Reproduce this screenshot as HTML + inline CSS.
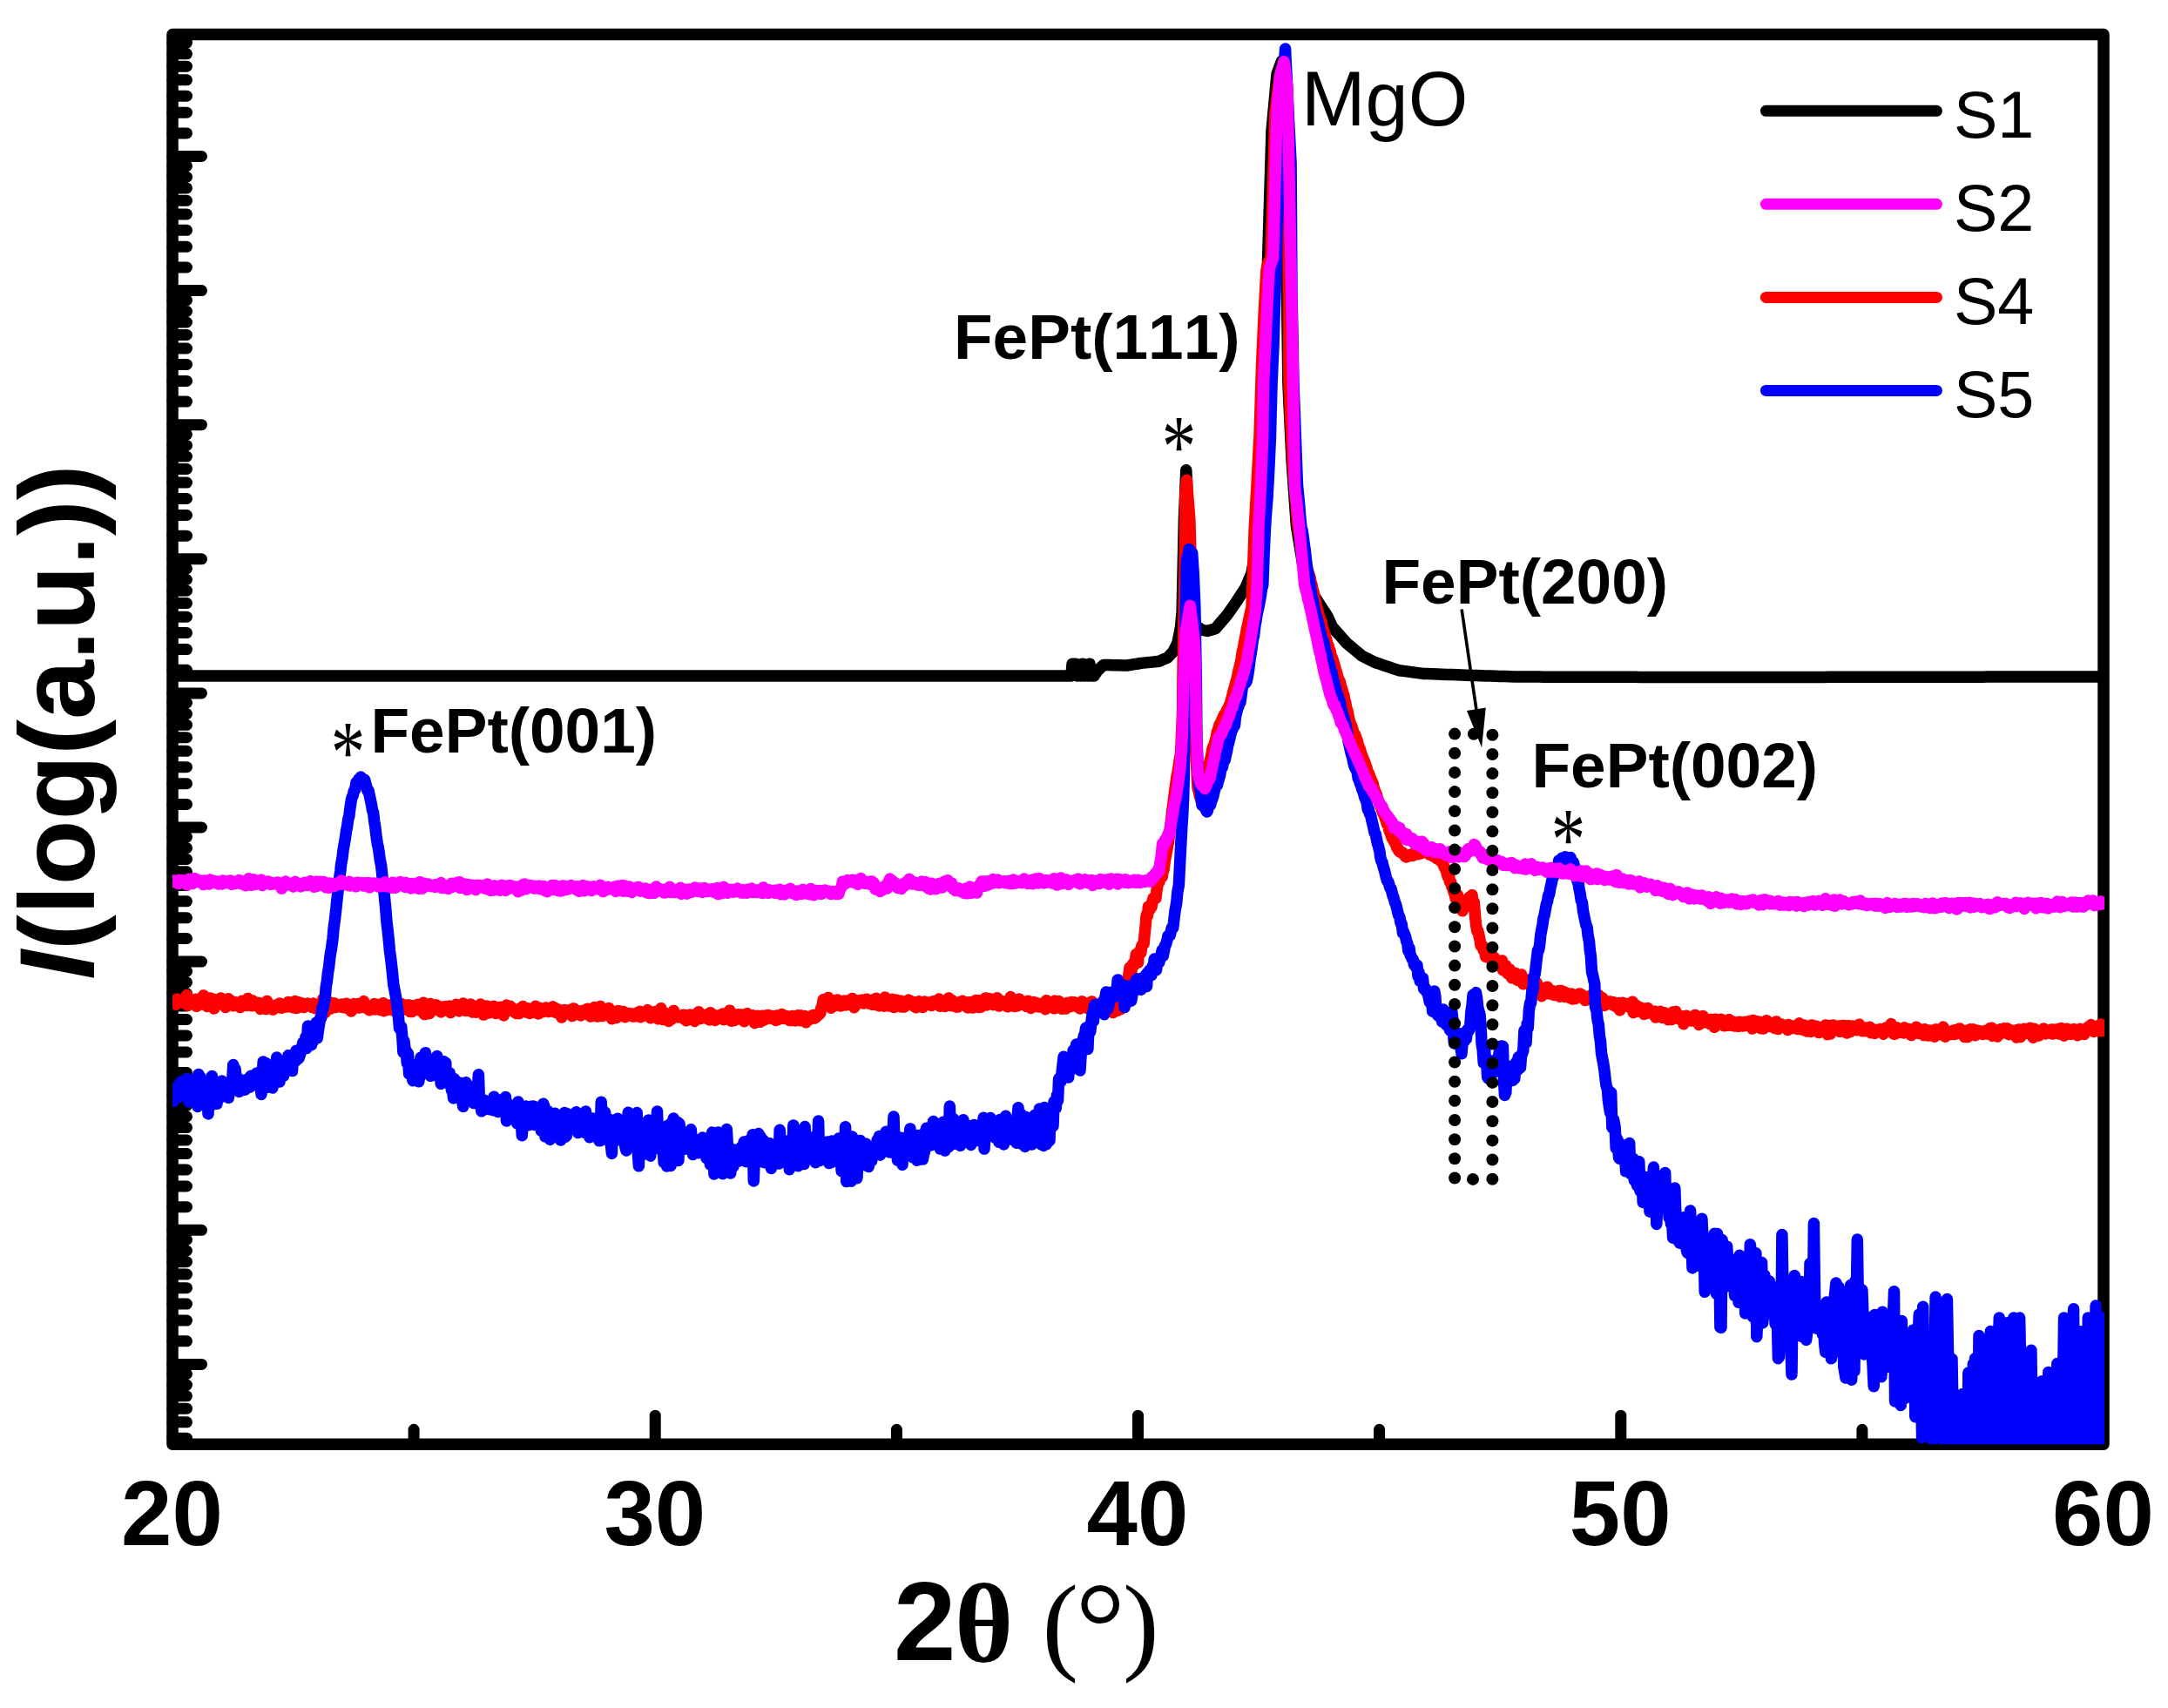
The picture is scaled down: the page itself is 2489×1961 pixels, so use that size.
<!DOCTYPE html>
<html><head><meta charset="utf-8"><title>XRD patterns</title>
<style>html,body{margin:0;padding:0;background:#fff}svg{display:block}text{font-family:"Liberation Sans",sans-serif;fill:#000;font-kerning:none}.sf{font-family:"Liberation Serif",serif}</style></head>
<body>
<svg width="2489" height="1961" viewBox="0 0 2489 1961">
<rect width="2489" height="1961" fill="#fff"/>
<defs><clipPath id="plot"><rect x="198.0" y="39.5" width="2218.0" height="1618.8"/></clipPath></defs>
<rect x="198.0" y="39.5" width="2217.0" height="1618.8" fill="none" stroke="#000" stroke-width="13.5" stroke-linejoin="round"/>
<path d="M198.0 49.1H214.5M198.0 61.8H214.5M198.0 76.2H214.5M198.0 91.8H214.5M198.0 110.2H214.5M198.0 129.2H214.5M198.0 152.9H214.5M198.0 179.5H231.5M198.0 190.6H214.5M198.0 203.2H214.5M198.0 215.9H214.5M198.0 230.3H214.5M198.0 245.9H214.5M198.0 264.3H214.5M198.0 283.3H214.5M198.0 307.0H214.5M198.0 333.6H231.5M198.0 344.7H214.5M198.0 357.3H214.5M198.0 370.0H214.5M198.0 384.4H214.5M198.0 400.0H214.5M198.0 418.4H214.5M198.0 437.4H214.5M198.0 461.1H214.5M198.0 487.7H231.5M198.0 498.8H214.5M198.0 511.4H214.5M198.0 524.1H214.5M198.0 538.5H214.5M198.0 554.1H214.5M198.0 572.5H214.5M198.0 591.5H214.5M198.0 615.2H214.5M198.0 641.8H231.5M198.0 652.9H214.5M198.0 665.5H214.5M198.0 678.2H214.5M198.0 692.6H214.5M198.0 708.2H214.5M198.0 726.6H214.5M198.0 745.6H214.5M198.0 769.3H214.5M198.0 795.9H231.5M198.0 807.0H214.5M198.0 819.6H214.5M198.0 832.3H214.5M198.0 846.7H214.5M198.0 862.3H214.5M198.0 880.7H214.5M198.0 899.7H214.5M198.0 923.4H214.5M198.0 950.0H231.5M198.0 961.1H214.5M198.0 973.7H214.5M198.0 986.4H214.5M198.0 1000.8H214.5M198.0 1016.4H214.5M198.0 1034.8H214.5M198.0 1053.8H214.5M198.0 1077.5H214.5M198.0 1104.1H231.5M198.0 1115.2H214.5M198.0 1127.8H214.5M198.0 1140.5H214.5M198.0 1154.9H214.5M198.0 1170.5H214.5M198.0 1188.9H214.5M198.0 1207.9H214.5M198.0 1231.6H214.5M198.0 1258.2H231.5M198.0 1269.3H214.5M198.0 1281.9H214.5M198.0 1294.6H214.5M198.0 1309.0H214.5M198.0 1324.6H214.5M198.0 1343.0H214.5M198.0 1362.0H214.5M198.0 1385.7H214.5M198.0 1412.3H231.5M198.0 1423.4H214.5M198.0 1436.0H214.5M198.0 1448.7H214.5M198.0 1463.1H214.5M198.0 1478.7H214.5M198.0 1497.1H214.5M198.0 1516.1H214.5M198.0 1539.8H214.5M198.0 1566.4H231.5M198.0 1577.5H214.5M198.0 1590.1H214.5M198.0 1602.8H214.5M198.0 1617.2H214.5M198.0 1632.8H214.5M198.0 1651.2H214.5M752.2 1658.3V1625.2M1306.5 1658.3V1625.2M1860.8 1658.3V1625.2M475.1 1658.3V1641.3M1029.4 1658.3V1641.3M1583.6 1658.3V1641.3M2137.9 1658.3V1641.3" fill="none" stroke="#000" stroke-width="13" stroke-linecap="round"/>
<g clip-path="url(#plot)" fill="none" stroke-width="13.5" stroke-linejoin="round" stroke-linecap="butt">
<polyline stroke="#000000" points="198.0,776.0 203.5,776.0 209.1,776.0 214.6,776.0 220.2,776.0 225.7,776.0 231.3,776.0 236.8,776.0 242.3,776.0 247.9,776.0 253.4,776.0 259.0,776.0 264.5,776.0 270.1,776.0 275.6,776.0 281.1,776.0 286.7,776.0 292.2,776.0 297.8,776.0 303.3,776.0 308.9,776.0 314.4,776.0 319.9,776.0 325.5,776.0 331.0,776.0 336.6,776.0 342.1,776.0 347.6,776.0 353.2,776.0 358.7,776.0 364.3,776.0 369.8,776.0 375.4,776.0 380.9,776.0 386.4,776.0 392.0,776.0 397.5,776.0 403.1,776.0 408.6,776.0 414.2,776.0 419.7,776.0 425.2,776.0 430.8,776.0 436.3,776.0 441.9,776.0 447.4,776.0 453.0,776.0 458.5,776.0 464.0,776.0 469.6,776.0 475.1,776.0 480.7,776.0 486.2,776.0 491.8,776.0 497.3,776.0 502.8,776.0 508.4,776.0 513.9,776.0 519.5,776.0 525.0,776.0 530.5,776.0 536.1,776.0 541.6,776.0 547.2,776.0 552.7,776.0 558.3,776.0 563.8,776.0 569.3,776.0 574.9,776.0 580.4,776.0 586.0,776.0 591.5,776.0 597.1,776.0 602.6,776.0 608.1,776.0 613.7,776.0 619.2,776.0 624.8,776.0 630.3,776.0 635.9,776.0 641.4,776.0 646.9,776.0 652.5,776.0 658.0,776.0 663.6,776.0 669.1,776.0 674.7,776.0 680.2,776.0 685.7,776.0 691.3,776.0 696.8,776.0 702.4,776.0 707.9,776.0 713.5,776.0 719.0,776.0 724.5,776.0 730.1,776.0 735.6,776.0 741.2,776.0 746.7,776.0 752.2,776.0 757.8,776.0 763.3,776.0 768.9,776.0 774.4,776.0 780.0,776.0 785.5,776.0 791.0,776.0 796.6,776.0 802.1,776.0 807.7,776.0 813.2,776.0 818.8,776.0 824.3,776.0 829.8,776.0 835.4,776.0 840.9,776.0 846.5,776.0 852.0,776.0 857.6,776.0 863.1,776.0 868.6,776.0 874.2,776.0 879.7,776.0 885.3,776.0 890.8,776.0 896.4,776.0 901.9,776.0 907.4,776.0 913.0,776.0 918.5,776.0 924.1,776.0 929.6,776.0 935.2,776.0 940.7,776.0 946.2,776.0 951.8,776.0 957.3,776.0 962.9,776.0 968.4,776.0 974.0,776.0 979.5,776.0 985.0,776.0 990.6,776.0 996.1,776.0 1001.7,776.0 1007.2,776.0 1012.7,776.0 1018.3,776.0 1023.8,776.0 1029.4,776.0 1034.9,776.0 1040.5,776.0 1046.0,776.0 1051.5,776.0 1057.1,776.0 1062.6,776.0 1068.2,776.0 1073.7,776.0 1079.3,776.0 1084.8,776.0 1090.3,776.0 1095.9,776.0 1101.4,776.0 1107.0,776.0 1112.5,776.0 1118.1,776.0 1123.6,776.0 1129.1,776.0 1134.7,776.0 1140.2,776.0 1145.8,776.0 1151.3,776.0 1156.9,776.0 1162.4,776.0 1167.9,776.0 1173.5,776.0 1179.0,776.0 1184.6,776.0 1190.1,776.0 1195.7,776.0 1201.2,776.0 1206.7,776.0 1212.3,776.0 1217.8,776.0 1222.0,776.0 1230.0,776.0 1231.0,762.3 1235.0,762.3 1237.0,776.0 1239.0,763.0 1241.0,776.0 1243.0,762.3 1245.0,776.0 1247.0,763.0 1249.0,776.0 1251.0,762.3 1253.0,776.0 1256.0,776.0 1260.0,770.0 1267.0,763.4 1273.2,763.5 1278.8,763.7 1284.3,763.8 1289.9,763.9 1293.7,764.0 1301.0,762.8 1306.5,762.0 1310.0,761.4 1317.6,760.6 1323.1,760.1 1330.6,759.3 1334.2,757.7 1340.5,755.0 1347.0,748.0 1352.0,738.0 1355.5,720.0 1357.1,702.7 1359.4,596.0 1361.8,539.7 1364.5,600.0 1367.5,690.0 1373.0,718.0 1379.0,723.0 1386.0,724.5 1389.6,723.4 1395.3,721.8 1400.7,715.5 1406.3,709.0 1409.0,705.8 1411.8,701.8 1417.4,693.8 1420.0,690.0 1422.9,685.5 1430.0,674.6 1434.0,665.2 1437.0,658.0 1441.0,635.0 1446.0,560.0 1451.0,450.0 1455.5,300.0 1460.0,150.0 1466.0,85.0 1471.5,70.0 1475.0,150.0 1477.0,300.0 1478.9,440.0 1483.0,528.0 1488.4,604.0 1496.0,650.0 1500.5,662.3 1508.0,683.0 1511.6,688.5 1517.1,697.1 1524.2,708.0 1529.2,719.3 1533.7,724.5 1539.3,730.8 1545.6,738.0 1550.4,742.0 1555.9,746.6 1563.6,753.0 1567.0,754.7 1572.5,757.5 1578.5,760.5 1583.6,762.2 1589.2,764.1 1594.7,765.9 1600.3,767.8 1606.0,769.7 1611.3,770.4 1616.9,771.1 1622.4,771.9 1628.0,772.6 1633.8,773.4 1639.1,773.6 1644.6,773.8 1650.1,774.0 1655.7,774.2 1661.2,774.4 1666.8,774.6 1672.3,774.8 1677.8,775.0 1683.4,775.2 1689.0,775.4 1694.5,775.6 1700.0,775.7 1705.6,775.9 1711.1,776.1 1716.6,776.2 1722.2,776.4 1727.7,776.6 1733.3,776.8 1738.8,776.9 1744.5,777.1 1749.9,777.1 1755.4,777.1 1761.0,777.1 1766.5,777.1 1772.1,777.2 1777.6,777.2 1783.2,777.2 1788.7,777.2 1794.2,777.2 1799.8,777.2 1805.3,777.2 1810.9,777.2 1816.4,777.2 1822.0,777.2 1827.5,777.3 1833.0,777.3 1838.6,777.3 1844.1,777.3 1849.7,777.3 1855.2,777.3 1860.8,777.3 1866.3,777.3 1871.8,777.3 1877.4,777.3 1882.9,777.4 1888.5,777.4 1894.0,777.4 1899.5,777.4 1905.1,777.4 1910.6,777.4 1916.2,777.4 1921.7,777.4 1927.3,777.4 1932.8,777.4 1938.3,777.5 1943.9,777.5 1949.4,777.5 1955.0,777.5 1960.0,777.5 1966.1,777.5 1971.6,777.5 1977.1,777.5 1982.7,777.5 1988.2,777.5 1993.8,777.5 1999.3,777.5 2004.9,777.5 2010.4,777.4 2015.9,777.4 2021.5,777.4 2027.0,777.4 2032.6,777.4 2038.1,777.4 2043.7,777.4 2049.2,777.4 2054.7,777.4 2060.3,777.4 2065.8,777.4 2071.4,777.4 2076.9,777.4 2082.4,777.4 2088.0,777.4 2093.5,777.4 2099.1,777.3 2104.6,777.3 2110.2,777.3 2115.7,777.3 2121.2,777.3 2126.8,777.3 2132.3,777.3 2137.9,777.3 2143.4,777.3 2149.0,777.3 2154.5,777.3 2160.0,777.3 2165.6,777.3 2171.1,777.3 2176.7,777.3 2182.2,777.3 2187.8,777.2 2193.3,777.2 2198.8,777.2 2204.4,777.2 2209.9,777.2 2215.5,777.2 2221.0,777.2 2226.6,777.2 2232.1,777.2 2237.6,777.2 2243.2,777.2 2248.7,777.2 2254.3,777.2 2259.8,777.2 2265.4,777.2 2270.9,777.2 2276.4,777.2 2282.0,777.1 2287.5,777.1 2293.1,777.1 2298.6,777.1 2304.2,777.1 2309.7,777.1 2315.2,777.1 2320.8,777.1 2326.3,777.1 2331.9,777.1 2337.4,777.1 2342.9,777.1 2348.5,777.1 2354.0,777.1 2359.6,777.1 2365.1,777.1 2370.7,777.0 2376.2,777.0 2381.7,777.0 2387.3,777.0 2392.8,777.0 2398.4,777.0 2403.9,777.0 2409.5,777.0 2415.0,777.0"/>
<polyline stroke="#ff0000" points="198.0,1157.1 199.1,1149.0 200.2,1151.9 201.3,1151.3 202.4,1153.2 203.5,1147.1 204.7,1149.8 205.8,1148.9 206.9,1148.1 208.0,1148.7 209.1,1149.7 210.2,1150.3 211.3,1148.6 212.4,1152.3 213.5,1149.7 214.6,1142.5 215.7,1154.4 216.8,1150.2 218.0,1149.2 219.1,1152.0 220.2,1151.9 221.3,1151.5 222.4,1149.0 223.5,1151.9 224.6,1147.2 225.7,1155.3 226.8,1148.0 227.9,1150.9 229.0,1151.5 230.1,1152.1 231.3,1150.9 232.4,1152.9 233.5,1142.9 234.6,1151.0 235.7,1150.8 236.8,1150.1 237.9,1155.5 239.0,1148.7 240.1,1151.1 241.2,1145.9 242.3,1152.2 243.4,1147.0 244.6,1147.2 245.7,1157.9 246.8,1153.4 247.9,1151.5 249.0,1152.0 250.1,1147.7 251.2,1148.7 252.3,1152.8 253.4,1145.9 254.5,1152.4 255.6,1147.0 256.8,1152.1 257.9,1148.7 259.0,1156.6 260.1,1154.6 261.2,1150.4 262.3,1146.7 263.4,1149.7 264.5,1151.7 265.6,1149.2 266.7,1152.7 267.8,1154.7 268.9,1151.8 270.1,1150.8 271.2,1154.2 272.3,1151.3 273.4,1154.4 274.5,1151.2 275.6,1156.6 276.7,1151.4 277.8,1149.3 278.9,1152.5 280.0,1150.5 281.1,1149.7 282.2,1151.9 283.4,1154.4 284.5,1146.4 285.6,1152.3 286.7,1152.0 287.8,1152.0 288.9,1154.7 290.0,1148.9 291.1,1154.3 292.2,1151.9 293.3,1152.9 294.4,1152.0 295.5,1151.7 296.7,1151.2 297.8,1153.8 298.9,1158.5 300.0,1155.6 301.1,1155.1 302.2,1154.3 303.3,1151.5 304.4,1154.5 305.5,1158.6 306.6,1149.4 307.7,1155.2 308.9,1155.7 310.0,1153.8 311.1,1155.2 312.2,1156.9 313.3,1159.2 314.4,1156.7 315.5,1157.7 316.6,1154.1 317.7,1155.5 318.8,1153.7 319.9,1154.1 321.0,1152.0 322.2,1155.2 323.3,1157.3 324.4,1153.0 325.5,1154.1 326.6,1155.2 327.7,1153.5 328.8,1156.1 329.9,1154.3 331.0,1150.4 332.1,1150.8 333.2,1155.6 334.3,1155.4 335.5,1156.7 336.6,1154.4 337.7,1154.3 338.8,1149.5 339.9,1157.6 341.0,1151.3 342.1,1156.7 343.2,1150.8 344.3,1152.1 345.4,1154.4 346.5,1152.8 347.6,1152.1 348.8,1156.5 349.9,1155.9 351.0,1155.2 352.1,1153.2 353.2,1151.9 354.3,1152.9 355.4,1152.8 356.5,1154.1 357.6,1156.3 358.7,1153.8 359.8,1152.1 360.9,1152.6 362.1,1157.8 363.2,1154.8 364.3,1155.0 365.4,1155.2 366.5,1156.1 367.6,1154.9 368.7,1157.7 369.8,1156.7 370.9,1146.9 372.0,1154.2 373.1,1162.6 374.3,1151.2 375.4,1155.0 376.5,1157.6 377.6,1154.7 378.7,1158.4 379.8,1151.3 380.9,1151.4 382.0,1154.3 383.1,1152.8 384.2,1152.0 385.3,1156.4 386.4,1155.7 387.6,1155.0 388.7,1153.9 389.8,1155.7 390.9,1154.7 392.0,1153.1 393.1,1156.5 394.2,1156.1 395.3,1155.3 396.4,1157.0 397.5,1152.2 398.6,1154.8 399.7,1153.8 400.9,1158.8 402.0,1156.6 403.1,1161.0 404.2,1159.6 405.3,1154.3 406.4,1152.4 407.5,1156.7 408.6,1154.7 409.7,1155.0 410.8,1152.6 411.9,1157.1 413.0,1156.0 414.2,1156.6 415.3,1156.4 416.4,1153.2 417.5,1149.6 418.6,1154.9 419.7,1153.9 420.8,1154.3 421.9,1158.3 423.0,1155.5 424.1,1159.8 425.2,1156.3 426.4,1157.7 427.5,1157.2 428.6,1158.0 429.7,1152.5 430.8,1158.9 431.9,1156.2 433.0,1153.3 434.1,1157.6 435.2,1156.9 436.3,1159.5 437.4,1158.0 438.5,1157.1 439.7,1151.7 440.8,1160.7 441.9,1160.2 443.0,1158.3 444.1,1157.4 445.2,1159.5 446.3,1153.9 447.4,1158.2 448.5,1156.4 449.6,1153.6 450.7,1157.3 451.8,1157.3 453.0,1161.0 454.1,1159.0 455.2,1152.1 456.3,1151.2 457.4,1156.3 458.5,1156.0 459.6,1154.0 460.7,1152.6 461.8,1156.1 462.9,1153.5 464.0,1154.8 465.1,1159.0 466.3,1157.3 467.4,1154.7 468.5,1153.7 469.6,1156.3 470.7,1161.5 471.8,1155.4 472.9,1161.5 474.0,1154.7 475.1,1156.3 476.2,1158.8 477.3,1154.8 478.5,1157.1 479.6,1153.3 480.7,1158.8 481.8,1160.2 482.9,1155.3 484.0,1157.6 485.1,1156.0 486.2,1151.3 487.3,1164.6 488.4,1158.9 489.5,1159.4 490.6,1158.3 491.8,1157.7 492.9,1163.7 494.0,1152.4 495.1,1156.5 496.2,1156.2 497.3,1156.8 498.4,1159.3 499.5,1155.5 500.6,1153.9 501.7,1154.4 502.8,1158.7 503.9,1160.1 505.1,1159.7 506.2,1161.9 507.3,1156.2 508.4,1160.3 509.5,1159.5 510.6,1157.2 511.7,1155.6 512.8,1160.1 513.9,1155.9 515.0,1157.0 516.1,1155.1 517.2,1162.5 518.4,1157.7 519.5,1156.5 520.6,1157.2 521.7,1157.3 522.8,1158.2 523.9,1153.3 525.0,1154.8 526.1,1159.4 527.2,1160.9 528.3,1155.3 529.4,1158.4 530.5,1156.5 531.7,1152.0 532.8,1157.3 533.9,1155.2 535.0,1160.5 536.1,1157.6 537.2,1158.1 538.3,1154.3 539.4,1158.7 540.5,1153.1 541.6,1158.9 542.7,1162.1 543.9,1155.1 545.0,1160.7 546.1,1162.2 547.2,1157.9 548.3,1161.5 549.4,1158.7 550.5,1157.2 551.6,1153.1 552.7,1155.7 553.8,1154.6 554.9,1165.1 556.0,1159.4 557.2,1158.2 558.3,1155.0 559.4,1163.4 560.5,1155.6 561.6,1162.8 562.7,1161.7 563.8,1159.0 564.9,1157.1 566.0,1158.7 567.1,1155.3 568.2,1160.7 569.3,1163.5 570.5,1161.4 571.6,1161.8 572.7,1157.1 573.8,1159.9 574.9,1156.3 576.0,1157.9 577.1,1161.1 578.2,1165.9 579.3,1159.4 580.4,1159.3 581.5,1154.1 582.6,1159.7 583.8,1156.8 584.9,1155.5 586.0,1155.3 587.1,1159.7 588.2,1158.3 589.3,1161.2 590.0,1158.8 591.5,1159.4 592.6,1163.5 593.7,1161.7 594.8,1161.6 596.0,1163.6 597.1,1160.2 598.2,1157.0 599.3,1157.6 600.4,1155.5 601.5,1160.8 602.6,1158.7 603.7,1161.3 604.8,1162.2 605.9,1157.8 607.0,1160.5 608.1,1163.5 609.3,1160.3 610.4,1162.6 611.5,1159.6 612.6,1157.6 613.7,1159.6 614.8,1155.2 615.9,1162.2 617.0,1158.9 618.1,1164.0 619.2,1157.1 620.3,1160.8 621.4,1161.4 622.6,1160.0 623.7,1161.6 624.8,1158.6 625.9,1157.7 627.0,1156.9 628.1,1159.2 629.2,1158.6 630.3,1161.5 631.4,1159.9 632.5,1159.1 633.6,1158.9 634.7,1155.8 635.9,1160.0 637.0,1162.2 638.1,1157.5 639.2,1160.4 640.3,1163.0 641.4,1159.3 642.5,1161.8 643.6,1160.1 644.7,1168.0 645.8,1165.2 646.9,1164.6 648.1,1159.6 649.2,1163.2 650.3,1161.1 651.4,1162.5 652.5,1160.0 653.6,1162.1 654.7,1159.6 655.8,1162.5 656.9,1166.6 658.0,1158.0 659.1,1158.2 660.2,1163.2 661.4,1164.1 662.5,1160.9 663.6,1163.6 664.7,1163.2 665.8,1163.6 666.9,1165.9 668.0,1160.4 669.1,1164.0 670.2,1162.8 671.3,1160.4 672.4,1163.7 673.5,1158.8 674.7,1158.3 675.8,1165.4 676.9,1159.4 678.0,1167.1 679.1,1165.4 680.2,1161.1 681.3,1160.2 682.4,1156.5 683.5,1162.5 684.6,1158.2 685.7,1167.1 686.8,1158.2 688.0,1163.0 689.1,1155.4 690.2,1161.9 691.3,1166.6 692.4,1161.8 693.5,1160.8 694.6,1161.8 695.7,1164.1 696.8,1165.6 697.9,1162.5 699.0,1157.6 700.2,1164.1 701.3,1166.0 702.4,1169.7 703.5,1163.8 704.6,1163.9 705.7,1162.0 706.8,1165.6 707.9,1168.4 709.0,1160.8 710.1,1163.8 711.2,1160.8 712.3,1161.8 713.5,1163.2 714.6,1165.1 715.7,1161.5 716.8,1163.0 717.9,1167.7 719.0,1165.3 720.1,1165.9 721.2,1165.1 722.3,1163.5 723.4,1165.2 724.5,1165.5 725.6,1164.1 726.8,1167.0 727.9,1164.2 729.0,1166.8 730.1,1164.4 731.2,1166.4 732.3,1162.5 733.4,1162.9 734.5,1161.3 735.6,1167.8 736.7,1165.9 737.8,1165.2 738.9,1166.3 740.1,1162.4 741.2,1165.0 742.3,1163.3 743.4,1159.6 744.5,1164.1 745.6,1162.4 746.7,1168.8 747.8,1162.9 748.9,1163.3 750.0,1167.7 751.1,1165.0 752.2,1161.4 753.4,1165.8 754.5,1163.1 755.6,1169.9 756.7,1162.3 757.8,1163.2 758.9,1157.7 760.0,1163.5 761.1,1170.6 762.2,1165.1 763.3,1162.8 764.4,1166.3 765.6,1164.7 766.7,1165.5 767.8,1172.5 768.9,1171.2 770.0,1170.1 771.1,1170.3 772.2,1163.2 773.3,1160.4 774.4,1167.9 775.5,1167.0 776.6,1166.1 777.7,1165.7 778.9,1168.0 780.0,1167.6 781.1,1166.8 782.2,1167.5 783.3,1165.6 784.4,1165.2 785.5,1170.1 786.6,1165.6 787.7,1171.8 788.8,1168.2 789.9,1166.6 791.0,1169.6 792.2,1165.1 793.3,1166.0 794.4,1165.6 795.5,1166.6 796.6,1168.5 797.7,1172.4 798.8,1168.2 799.9,1163.8 801.0,1164.5 802.1,1161.8 803.2,1168.9 804.3,1169.4 805.5,1167.9 806.6,1168.0 807.7,1168.5 808.8,1168.3 809.9,1168.9 811.0,1167.8 812.1,1164.5 813.2,1169.8 814.3,1171.0 815.4,1162.8 816.5,1166.7 817.7,1164.3 818.8,1168.8 819.9,1166.7 821.0,1171.4 822.1,1170.6 823.2,1166.3 824.3,1166.3 825.4,1166.0 826.5,1169.3 827.6,1165.2 828.7,1169.0 829.8,1164.0 831.0,1170.7 832.1,1169.2 833.2,1164.7 834.3,1165.8 835.4,1168.4 836.5,1168.8 837.6,1160.2 838.7,1168.7 839.8,1172.3 840.9,1166.9 842.0,1164.4 843.1,1171.5 844.3,1168.8 845.4,1168.7 846.5,1169.9 847.6,1164.8 848.7,1166.3 849.8,1165.1 850.9,1165.1 852.0,1167.3 853.1,1165.3 854.2,1172.7 855.3,1169.6 856.4,1170.5 857.6,1163.7 858.7,1167.6 859.8,1167.8 860.9,1168.7 862.0,1169.5 863.1,1166.1 864.2,1165.8 865.3,1170.9 866.4,1174.5 867.5,1174.1 868.6,1167.5 869.8,1166.2 870.9,1168.9 872.0,1169.7 873.1,1173.2 874.2,1167.7 875.3,1166.3 876.4,1171.3 877.5,1166.4 878.6,1166.0 879.7,1169.9 880.8,1167.9 881.9,1165.5 883.1,1167.7 884.2,1167.3 885.3,1167.8 886.4,1166.4 887.5,1170.1 888.6,1167.5 889.7,1166.8 890.8,1171.4 891.9,1166.0 893.0,1170.6 894.1,1170.1 895.2,1167.7 896.4,1169.1 897.5,1164.5 898.6,1169.2 899.7,1165.7 900.8,1166.2 901.9,1169.3 903.0,1166.6 904.1,1169.0 905.2,1169.7 906.3,1171.5 907.4,1169.7 908.5,1171.5 909.7,1166.6 910.8,1167.6 911.9,1170.4 913.0,1171.9 914.1,1169.9 914.9,1167.2 916.3,1165.7 917.4,1166.0 918.5,1171.7 919.6,1165.9 920.7,1167.9 921.9,1170.2 923.0,1169.6 924.1,1166.5 925.2,1173.8 926.3,1168.8 927.4,1169.1 928.5,1170.5 929.6,1167.4 930.7,1170.1 931.8,1167.8 932.9,1165.7 934.0,1165.5 935.2,1169.1 936.3,1168.3 937.4,1167.6 938.0,1166.7 939.6,1164.0 940.7,1164.5 941.8,1163.0 942.9,1156.9 944.0,1156.0 945.1,1147.8 946.0,1148.0 947.3,1149.2 948.5,1148.6 949.6,1153.0 950.7,1145.4 951.8,1152.5 952.9,1153.0 954.0,1157.2 955.1,1149.8 956.2,1152.4 957.3,1155.2 958.4,1153.7 959.5,1148.6 960.6,1150.2 961.8,1148.1 962.9,1151.4 964.0,1153.1 965.1,1154.9 966.2,1152.7 967.3,1153.7 968.4,1154.1 969.5,1149.0 970.6,1153.1 971.7,1153.9 972.8,1150.8 974.0,1148.7 975.1,1151.7 976.2,1151.7 977.3,1153.2 978.4,1146.4 979.5,1150.3 980.6,1156.8 981.7,1154.8 982.8,1150.9 983.9,1150.5 985.0,1150.6 986.1,1148.7 987.3,1150.1 988.4,1151.2 989.5,1148.1 990.6,1151.2 991.7,1152.1 992.8,1147.9 993.9,1150.2 995.0,1147.2 996.1,1151.5 997.2,1152.0 998.3,1150.0 999.4,1151.6 1000.6,1152.9 1001.7,1153.3 1002.8,1147.8 1003.9,1150.6 1005.0,1147.5 1006.1,1146.3 1007.2,1154.2 1008.3,1153.5 1009.4,1154.9 1010.5,1153.6 1011.6,1150.1 1012.7,1152.1 1013.9,1150.0 1015.0,1155.2 1016.1,1145.1 1017.2,1152.6 1018.3,1150.0 1019.4,1153.5 1020.5,1154.8 1021.6,1149.8 1022.7,1155.3 1023.8,1154.5 1024.9,1147.3 1026.0,1156.5 1027.2,1148.4 1028.3,1147.9 1029.4,1154.2 1030.5,1149.6 1031.6,1152.2 1032.7,1151.5 1033.8,1148.9 1034.9,1156.0 1036.0,1155.7 1037.1,1151.9 1038.2,1155.9 1039.4,1151.6 1040.5,1152.4 1041.6,1150.8 1042.7,1148.1 1043.8,1150.8 1044.9,1149.1 1046.0,1152.8 1047.1,1152.1 1048.2,1150.2 1049.3,1155.2 1050.4,1152.7 1051.5,1156.7 1052.7,1150.7 1053.8,1150.7 1054.9,1149.8 1056.0,1152.4 1057.1,1151.3 1058.2,1151.9 1059.3,1156.5 1060.4,1153.9 1061.5,1150.1 1062.6,1152.9 1063.7,1151.1 1064.8,1151.0 1066.0,1151.2 1067.1,1152.0 1068.2,1153.6 1069.3,1154.6 1070.4,1152.0 1071.5,1149.7 1072.6,1151.9 1073.7,1151.3 1074.8,1151.1 1075.9,1148.6 1077.0,1151.5 1078.1,1147.0 1079.3,1155.3 1080.0,1153.9 1081.5,1153.9 1082.6,1149.4 1083.7,1152.6 1084.8,1155.4 1085.9,1151.4 1087.0,1149.1 1088.1,1151.7 1089.2,1145.9 1090.3,1154.5 1091.5,1153.2 1092.6,1148.3 1093.7,1153.9 1094.8,1155.1 1095.9,1153.8 1097.0,1153.9 1098.1,1156.2 1099.2,1152.7 1100.3,1155.9 1101.4,1151.5 1102.5,1150.2 1103.6,1151.2 1104.8,1149.3 1105.9,1153.2 1107.0,1150.2 1108.1,1153.1 1109.2,1153.0 1110.3,1156.6 1111.4,1157.0 1112.5,1150.7 1113.6,1151.7 1114.7,1151.8 1115.8,1150.5 1116.9,1157.1 1118.1,1155.6 1119.2,1151.7 1120.3,1148.5 1121.4,1150.5 1122.5,1152.3 1123.6,1156.5 1124.7,1148.8 1125.8,1156.2 1126.9,1148.4 1128.0,1153.3 1129.1,1149.2 1130.2,1151.2 1131.4,1145.9 1132.5,1154.0 1133.6,1152.5 1134.7,1149.6 1135.8,1146.6 1136.9,1152.2 1138.0,1152.3 1139.1,1148.5 1140.2,1153.7 1141.3,1152.1 1142.4,1149.4 1143.6,1150.3 1144.7,1145.8 1145.8,1154.4 1146.9,1155.1 1148.0,1151.9 1149.1,1149.1 1150.2,1149.4 1151.3,1151.7 1152.4,1150.1 1153.5,1153.3 1154.6,1150.2 1155.7,1155.0 1156.9,1155.8 1158.0,1150.9 1159.1,1150.4 1160.2,1144.6 1161.3,1152.7 1162.4,1153.6 1163.5,1150.1 1164.6,1155.6 1165.7,1150.8 1166.8,1149.4 1167.9,1154.9 1169.0,1153.9 1170.2,1147.1 1171.3,1150.8 1172.4,1149.2 1173.5,1152.1 1174.6,1153.2 1175.7,1151.5 1176.8,1153.1 1177.9,1155.2 1179.0,1151.9 1180.1,1149.3 1181.2,1150.1 1182.3,1155.0 1183.5,1157.4 1184.6,1152.3 1185.7,1153.8 1186.8,1150.6 1187.9,1151.2 1189.0,1155.4 1190.1,1151.4 1191.2,1153.3 1192.3,1153.2 1193.4,1156.0 1194.5,1153.5 1195.7,1152.7 1196.8,1152.1 1197.9,1151.5 1199.0,1155.6 1200.1,1158.7 1201.2,1148.7 1202.3,1155.7 1203.4,1150.3 1204.5,1151.3 1205.6,1152.1 1206.7,1151.8 1207.8,1152.0 1209.0,1151.4 1210.1,1157.8 1211.2,1149.1 1212.3,1151.3 1213.4,1150.9 1214.5,1153.5 1215.6,1149.6 1216.7,1153.0 1217.8,1153.4 1218.9,1158.3 1220.0,1154.8 1221.1,1152.9 1222.3,1153.4 1223.4,1158.1 1224.5,1152.8 1225.6,1151.3 1226.7,1151.5 1227.8,1152.2 1228.9,1155.5 1230.0,1150.5 1231.1,1151.6 1232.2,1153.1 1233.3,1150.7 1234.4,1155.0 1235.6,1152.2 1236.7,1154.6 1237.8,1154.6 1238.9,1157.3 1240.0,1157.9 1241.1,1151.0 1242.2,1149.8 1243.3,1150.3 1244.4,1154.8 1245.5,1155.0 1246.6,1153.6 1247.7,1153.6 1248.9,1157.8 1250.0,1156.2 1251.1,1154.5 1252.2,1155.6 1253.3,1149.9 1254.4,1157.2 1255.5,1159.7 1256.7,1154.6 1257.7,1153.2 1258.8,1157.8 1259.9,1153.3 1261.1,1155.0 1262.2,1156.6 1263.3,1154.6 1264.4,1157.1 1265.5,1150.2 1266.6,1149.0 1267.7,1157.6 1268.8,1157.2 1269.9,1156.6 1271.0,1155.1 1272.1,1156.4 1273.2,1157.6 1274.4,1153.5 1275.5,1157.4 1276.6,1154.8 1277.7,1162.6 1278.8,1158.1 1279.9,1158.0 1281.0,1160.2 1282.1,1160.1 1283.2,1160.3 1284.3,1156.2 1285.0,1158.4 1286.5,1158.6 1287.7,1155.6 1288.8,1154.0 1289.9,1150.9 1291.0,1151.7 1292.0,1153.7 1293.2,1138.4 1294.3,1130.2 1295.4,1122.9 1297.0,1110.8 1297.6,1117.0 1298.7,1116.1 1299.8,1109.9 1301.0,1106.2 1302.1,1108.3 1303.2,1105.9 1304.3,1095.5 1305.4,1100.0 1306.5,1105.2 1307.0,1097.0 1307.6,1094.3 1308.7,1091.4 1309.8,1094.0 1310.9,1085.4 1312.0,1084.5 1313.1,1083.5 1314.3,1070.6 1315.4,1060.4 1315.9,1052.9 1316.5,1049.8 1317.6,1050.9 1318.4,1040.8 1319.8,1044.5 1320.9,1042.8 1322.0,1041.3 1323.1,1034.7 1324.2,1030.8 1325.3,1031.2 1326.9,1031.4 1327.6,1025.2 1329.0,1016.1 1329.8,1012.6 1330.9,1012.8 1332.0,1002.4 1333.1,1001.8 1334.2,1006.5 1335.3,1000.1 1336.0,998.6 1337.5,987.2 1338.6,981.7 1339.8,975.5 1340.9,969.3 1341.5,966.7 1343.5,949.5 1344.2,944.5 1345.3,934.7 1346.4,926.0 1347.5,917.5 1349.0,905.4 1349.7,901.3 1350.8,892.5 1351.9,887.4 1353.1,880.2 1354.2,872.2 1355.6,865.2 1356.4,845.2 1357.7,814.7 1357.9,779.5 1358.6,734.3 1360.1,656.6 1360.9,566.3 1361.9,557.0 1362.5,551.2 1363.0,559.9 1364.1,574.5 1365.3,589.1 1366.0,599.9 1367.5,659.8 1368.5,700.3 1369.7,747.2 1371.0,800.7 1371.9,834.8 1372.5,860.6 1373.0,870.4 1374.1,888.1 1375.0,904.0 1376.3,909.2 1377.4,914.0 1379.0,919.3 1379.7,917.3 1380.8,912.0 1381.9,908.7 1383.0,904.6 1384.0,900.4 1385.2,893.5 1386.3,889.2 1387.4,881.5 1388.5,876.8 1389.6,871.7 1390.7,867.4 1392.0,859.7 1393.0,857.2 1394.1,854.2 1395.2,850.6 1396.3,846.5 1397.4,840.4 1398.5,837.5 1400.0,832.5 1400.7,831.2 1401.8,829.0 1402.9,826.3 1404.0,824.3 1405.2,820.9 1406.3,820.6 1407.4,818.2 1408.5,815.2 1409.6,815.2 1410.7,811.5 1412.0,808.4 1412.9,806.0 1414.0,801.7 1415.1,797.6 1416.2,792.7 1417.4,789.3 1418.5,784.5 1419.6,781.2 1420.7,776.2 1421.8,770.9 1423.0,766.1 1424.0,762.3 1425.1,756.8 1426.2,748.8 1427.3,744.8 1428.4,738.4 1429.5,732.9 1431.0,724.3 1431.8,720.5 1432.9,715.8 1434.0,710.4 1435.1,705.6 1436.2,700.9 1437.0,697.0 1438.4,658.7 1440.0,611.2 1440.6,599.9 1441.7,579.7 1443.0,556.6 1444.0,537.3 1445.1,516.2 1446.0,500.2 1447.3,459.4 1448.5,420.5 1449.5,398.3 1451.0,362.7 1451.7,351.6 1452.8,329.9 1454.0,309.9 1455.0,305.2 1456.1,300.9 1457.3,300.1 1458.4,297.7 1459.0,296.3 1460.6,243.1 1461.7,205.2 1462.8,166.9 1464.0,127.9 1465.0,120.0 1466.1,111.3 1467.2,103.5 1468.3,94.8 1469.0,88.2 1470.6,85.4 1471.7,82.6 1473.0,79.8 1473.9,88.1 1475.0,94.9 1476.1,103.7 1477.0,108.1 1478.3,203.3 1479.0,249.5 1480.0,440.5 1480.5,450.8 1481.6,476.1 1482.8,501.3 1484.0,528.0 1485.0,540.5 1486.1,553.6 1487.2,567.7 1488.3,582.6 1489.4,596.3 1490.0,604.1 1490.5,606.0 1491.6,612.0 1492.7,618.7 1493.8,625.0 1494.9,629.1 1496.1,634.6 1497.0,640.1 1498.3,645.2 1499.4,648.5 1500.5,653.1 1501.6,655.8 1502.7,659.0 1503.8,662.0 1504.9,668.2 1505.5,669.7 1506.0,671.2 1507.1,676.9 1508.2,680.3 1509.4,687.0 1510.5,691.7 1511.6,696.6 1512.6,699.6 1513.8,705.2 1514.9,708.4 1516.0,712.8 1517.1,713.6 1518.2,719.6 1519.3,723.7 1520.4,726.0 1521.5,730.8 1522.7,733.8 1523.8,738.7 1524.9,740.9 1526.0,744.8 1527.3,748.2 1528.2,753.9 1529.3,754.8 1530.4,758.1 1531.5,761.7 1532.6,766.1 1533.7,769.6 1534.9,773.4 1536.0,777.9 1537.1,780.9 1538.2,782.2 1539.3,787.2 1540.4,790.3 1541.5,794.7 1542.9,798.5 1543.7,803.2 1544.8,807.1 1545.9,813.6 1547.0,815.9 1548.2,822.7 1549.3,827.3 1550.3,830.5 1551.5,832.9 1552.6,836.2 1553.7,839.9 1554.8,843.8 1555.9,843.8 1556.9,847.3 1558.1,849.9 1559.2,854.9 1560.3,857.6 1561.5,860.6 1562.6,864.6 1563.7,867.1 1564.8,871.2 1565.9,872.7 1567.0,875.5 1568.1,879.1 1569.2,882.1 1570.3,886.3 1571.4,887.9 1572.5,890.9 1573.6,893.8 1574.5,896.0 1575.9,898.7 1577.0,903.6 1578.1,907.0 1579.2,909.7 1580.3,911.9 1581.4,916.4 1582.5,919.3 1583.6,921.9 1584.7,925.2 1585.8,927.6 1586.5,929.9 1588.1,934.3 1589.2,935.8 1590.3,939.5 1591.4,942.3 1592.5,946.4 1593.6,946.8 1594.7,952.4 1595.8,955.2 1596.9,958.1 1598.4,962.7 1599.1,962.4 1600.3,965.9 1601.4,967.1 1602.5,969.2 1603.6,973.0 1604.7,973.5 1605.8,976.7 1607.0,978.0 1608.0,978.4 1609.1,979.1 1610.2,978.9 1611.3,980.6 1612.4,981.8 1613.6,983.6 1614.8,983.9 1615.8,983.7 1616.9,981.9 1618.0,981.7 1619.1,982.4 1620.2,982.3 1621.3,980.6 1622.4,982.2 1623.5,980.4 1624.6,980.9 1625.7,980.0 1626.9,980.8 1627.4,980.8 1628.0,980.6 1629.1,978.3 1630.2,978.6 1631.3,979.9 1632.4,977.3 1633.5,977.1 1634.8,976.1 1635.7,976.1 1636.8,978.7 1637.9,979.2 1639.0,977.8 1640.2,979.5 1641.3,981.3 1642.4,980.7 1643.5,981.0 1644.6,982.5 1645.7,983.0 1646.8,981.8 1647.9,982.8 1649.0,985.5 1650.1,984.3 1651.2,985.4 1652.4,985.5 1653.5,988.3 1654.8,986.3 1655.7,989.8 1656.8,992.1 1657.9,994.9 1659.0,996.9 1660.1,998.7 1661.2,1003.0 1662.3,1007.0 1663.2,1003.7 1664.5,1012.5 1665.7,1012.9 1666.8,1018.1 1667.9,1020.1 1669.0,1024.0 1670.1,1026.7 1671.2,1031.6 1671.7,1031.7 1672.3,1028.0 1673.4,1027.5 1674.5,1031.5 1675.6,1037.5 1676.7,1033.6 1677.8,1036.8 1679.0,1045.8 1680.0,1041.3 1681.2,1040.5 1682.3,1040.8 1683.4,1040.6 1684.5,1036.4 1685.6,1036.9 1686.7,1030.2 1687.8,1035.3 1688.9,1034.9 1690.0,1027.7 1690.6,1034.1 1691.1,1040.5 1692.3,1036.1 1693.4,1049.8 1694.5,1061.6 1695.9,1069.3 1696.7,1068.8 1697.8,1073.4 1698.9,1078.5 1700.0,1085.7 1701.2,1086.3 1702.2,1085.9 1703.3,1091.5 1704.5,1090.4 1705.6,1098.3 1706.7,1092.4 1707.8,1097.2 1708.9,1097.2 1710.0,1095.2 1711.1,1099.1 1711.7,1095.9 1712.2,1102.5 1713.3,1099.6 1714.4,1099.4 1715.5,1099.2 1716.6,1107.8 1717.8,1106.1 1718.9,1102.6 1720.0,1105.5 1721.1,1108.3 1722.2,1108.8 1723.3,1107.9 1724.4,1102.9 1725.5,1113.7 1726.4,1109.3 1727.7,1114.7 1728.8,1108.7 1729.9,1115.3 1731.1,1117.9 1732.2,1118.5 1733.3,1113.2 1734.4,1116.9 1735.5,1122.8 1737.0,1118.0 1737.7,1122.3 1738.8,1120.5 1739.9,1117.4 1741.0,1124.5 1742.1,1125.3 1743.2,1124.6 1744.4,1124.0 1745.5,1126.5 1746.6,1119.0 1747.7,1124.7 1748.8,1129.8 1749.9,1127.0 1751.0,1129.1 1751.7,1125.8 1753.2,1128.4 1754.3,1125.0 1755.4,1130.2 1756.6,1130.3 1757.7,1129.2 1758.8,1130.9 1759.9,1131.9 1761.0,1132.9 1762.1,1135.1 1763.2,1136.4 1764.3,1128.6 1765.4,1135.8 1766.5,1138.8 1767.6,1133.4 1768.6,1136.6 1769.9,1143.7 1771.0,1135.7 1772.1,1140.2 1773.2,1138.4 1774.3,1134.0 1775.4,1137.3 1776.5,1133.2 1777.6,1137.4 1778.7,1140.9 1779.8,1140.3 1780.9,1139.5 1782.0,1137.5 1783.2,1140.8 1784.3,1142.5 1785.4,1141.4 1786.5,1142.2 1787.6,1140.9 1788.7,1141.0 1789.8,1137.6 1790.9,1144.2 1792.0,1137.4 1793.1,1138.0 1794.2,1138.6 1795.3,1138.7 1796.5,1144.4 1797.6,1140.4 1798.7,1140.4 1800.0,1140.6 1800.9,1141.5 1802.0,1145.3 1803.1,1146.0 1804.2,1141.0 1805.3,1147.0 1806.4,1144.3 1807.5,1143.7 1808.7,1146.6 1809.8,1143.7 1810.9,1144.5 1812.0,1144.2 1813.1,1141.0 1814.2,1140.9 1815.3,1141.9 1816.4,1142.4 1817.5,1143.4 1818.6,1143.7 1819.7,1148.4 1820.8,1145.7 1822.0,1148.0 1823.1,1147.0 1824.2,1144.1 1825.3,1145.8 1826.4,1142.8 1827.5,1142.4 1828.6,1148.3 1829.7,1147.4 1830.8,1147.9 1831.9,1150.6 1833.0,1144.5 1834.1,1148.0 1835.3,1142.6 1836.4,1146.5 1837.5,1150.7 1838.6,1145.2 1839.7,1146.0 1840.8,1148.9 1841.9,1154.5 1843.0,1152.3 1844.1,1150.0 1845.2,1152.3 1846.3,1151.2 1847.4,1150.1 1848.6,1150.0 1849.7,1152.8 1850.8,1151.5 1851.9,1154.1 1853.0,1150.8 1854.1,1154.8 1855.2,1151.7 1856.0,1156.1 1857.4,1155.9 1858.5,1151.6 1859.6,1159.9 1860.8,1155.0 1861.9,1152.5 1863.0,1151.2 1864.1,1155.0 1865.2,1155.4 1866.3,1153.2 1867.4,1152.6 1868.5,1154.5 1869.6,1153.2 1870.7,1154.5 1871.8,1154.2 1872.9,1158.0 1874.1,1150.2 1875.2,1162.7 1876.3,1156.3 1877.4,1157.7 1878.5,1154.5 1879.6,1161.2 1880.7,1158.2 1881.8,1157.9 1882.9,1156.6 1884.0,1160.9 1885.1,1160.8 1886.2,1158.1 1887.4,1164.4 1888.5,1157.9 1889.6,1163.8 1890.7,1161.3 1891.8,1157.4 1892.9,1160.6 1894.0,1163.0 1895.1,1160.7 1896.2,1162.3 1897.3,1162.1 1898.4,1163.7 1900.0,1161.2 1900.7,1168.0 1901.8,1164.1 1902.9,1167.3 1904.0,1162.9 1905.1,1164.3 1906.2,1161.3 1907.3,1164.2 1908.4,1168.3 1909.5,1165.2 1910.6,1162.7 1911.7,1163.3 1912.8,1166.5 1914.0,1164.7 1915.1,1170.7 1916.2,1166.1 1917.3,1165.7 1918.4,1167.8 1919.5,1170.4 1920.6,1162.1 1921.7,1164.4 1922.8,1164.7 1923.9,1161.4 1925.0,1166.4 1926.2,1166.8 1927.3,1169.5 1928.4,1169.1 1929.5,1169.3 1930.6,1169.3 1931.7,1166.7 1932.8,1175.7 1933.9,1172.2 1935.0,1167.6 1936.1,1166.2 1937.2,1170.1 1938.3,1171.6 1939.5,1170.4 1940.6,1171.4 1941.7,1172.1 1942.8,1170.8 1943.9,1167.3 1945.0,1168.6 1946.1,1165.4 1947.2,1172.8 1948.3,1169.1 1949.4,1171.1 1950.5,1176.5 1951.5,1168.8 1952.8,1171.1 1953.9,1169.1 1955.0,1166.4 1956.1,1174.1 1957.2,1171.3 1958.3,1171.5 1959.4,1173.9 1960.5,1171.4 1961.6,1173.9 1962.7,1175.5 1963.8,1170.4 1964.9,1173.6 1966.1,1172.9 1967.2,1175.5 1968.3,1179.3 1969.4,1170.2 1970.5,1177.1 1971.6,1173.4 1972.7,1175.0 1973.8,1174.3 1974.9,1173.1 1976.0,1170.3 1977.1,1173.7 1978.3,1171.4 1979.4,1177.8 1980.5,1175.2 1981.6,1172.6 1982.7,1173.3 1983.8,1177.3 1984.9,1170.7 1986.0,1175.1 1987.1,1175.1 1988.2,1172.4 1989.3,1177.7 1990.4,1174.0 1991.6,1178.0 1992.7,1175.8 1993.8,1173.7 1994.9,1175.2 1996.0,1178.3 1997.1,1173.3 1998.2,1173.7 1999.3,1175.7 2000.4,1177.6 2001.5,1177.9 2003.0,1173.8 2003.7,1173.3 2004.9,1176.2 2006.0,1175.9 2007.1,1177.3 2008.2,1172.6 2009.3,1175.4 2010.4,1173.8 2011.5,1181.0 2012.6,1171.4 2013.7,1174.5 2014.8,1175.6 2015.9,1172.4 2017.0,1175.9 2018.2,1175.1 2019.3,1173.0 2020.4,1175.9 2021.5,1180.8 2022.6,1177.7 2023.7,1181.0 2024.8,1180.8 2025.9,1177.9 2027.0,1176.8 2028.1,1171.8 2029.2,1172.3 2030.4,1178.3 2031.5,1178.0 2032.6,1178.3 2033.7,1175.6 2034.8,1177.2 2035.9,1175.2 2037.0,1180.4 2038.1,1178.4 2039.2,1172.9 2040.3,1176.7 2041.4,1181.5 2042.5,1175.6 2043.7,1175.5 2044.8,1175.9 2045.9,1177.1 2047.0,1178.8 2048.1,1178.2 2049.2,1179.1 2050.3,1177.2 2051.4,1180.5 2052.5,1182.6 2053.6,1176.6 2054.7,1179.7 2055.8,1179.8 2057.0,1179.5 2058.1,1179.1 2059.2,1180.5 2060.3,1178.7 2061.4,1177.7 2062.5,1177.3 2063.6,1181.4 2064.7,1178.1 2065.8,1174.8 2066.9,1178.4 2068.0,1178.3 2069.1,1182.0 2070.3,1182.4 2071.4,1177.0 2072.5,1183.2 2073.6,1180.9 2074.7,1184.1 2075.8,1178.7 2076.9,1181.8 2078.0,1182.1 2079.1,1184.4 2080.0,1176.9 2081.3,1180.3 2082.4,1180.7 2083.6,1179.9 2084.7,1178.1 2085.8,1179.8 2086.9,1180.7 2088.0,1185.6 2089.1,1180.7 2090.2,1183.4 2091.3,1179.3 2092.4,1181.3 2093.5,1180.7 2094.6,1181.0 2095.8,1177.0 2096.9,1180.9 2098.0,1187.7 2099.1,1180.9 2100.2,1177.6 2101.3,1187.1 2102.4,1182.3 2103.5,1182.0 2104.6,1177.1 2105.7,1180.4 2106.8,1180.6 2107.9,1180.8 2109.1,1178.6 2110.2,1183.0 2111.3,1177.9 2112.4,1184.4 2113.5,1181.4 2114.6,1180.3 2115.7,1177.4 2116.8,1182.4 2117.9,1182.5 2119.0,1177.7 2120.1,1186.0 2121.2,1181.1 2122.4,1177.7 2123.5,1184.9 2124.6,1179.0 2125.7,1179.5 2126.8,1178.1 2127.9,1179.4 2129.0,1181.2 2130.1,1179.1 2131.2,1182.7 2132.3,1179.3 2133.4,1181.7 2134.5,1176.2 2135.7,1180.7 2136.8,1181.9 2137.9,1183.8 2139.0,1181.2 2140.1,1182.5 2141.2,1183.2 2142.3,1180.0 2143.4,1183.8 2144.5,1183.2 2145.6,1181.0 2146.7,1179.2 2147.9,1185.8 2149.0,1185.4 2150.1,1183.1 2151.2,1185.4 2152.3,1186.4 2153.4,1182.3 2154.5,1184.2 2155.6,1184.2 2156.7,1184.1 2157.6,1182.5 2158.9,1181.6 2160.0,1184.9 2161.2,1183.5 2162.3,1187.2 2163.4,1184.2 2164.5,1183.2 2165.6,1179.8 2166.7,1182.7 2167.8,1183.8 2168.9,1182.7 2170.0,1181.2 2171.1,1175.6 2172.2,1180.8 2173.3,1183.5 2174.5,1187.4 2175.6,1180.2 2176.7,1184.6 2177.8,1179.9 2178.9,1185.8 2180.0,1182.7 2181.1,1183.4 2182.2,1184.3 2183.3,1181.7 2184.4,1181.7 2185.5,1186.0 2186.6,1179.8 2187.8,1181.1 2188.9,1185.6 2190.0,1185.5 2191.1,1181.5 2192.2,1181.6 2193.3,1183.9 2194.4,1188.6 2195.5,1187.6 2196.6,1182.9 2197.7,1182.3 2198.8,1183.5 2200.0,1179.2 2201.1,1184.5 2202.2,1182.8 2203.3,1186.6 2204.4,1181.8 2205.5,1184.8 2206.6,1182.4 2207.7,1182.6 2208.8,1188.6 2209.9,1181.7 2211.0,1183.8 2212.1,1185.1 2213.3,1189.1 2214.4,1184.9 2215.5,1183.0 2216.6,1184.9 2217.7,1188.8 2218.8,1185.7 2219.9,1186.0 2221.0,1190.2 2222.1,1182.0 2223.2,1187.4 2224.3,1182.2 2225.4,1187.7 2226.6,1185.9 2227.7,1186.2 2228.8,1185.3 2229.9,1185.3 2231.0,1179.1 2232.1,1181.4 2233.2,1190.2 2234.3,1184.9 2235.0,1184.3 2236.5,1186.3 2237.6,1187.2 2238.7,1185.3 2239.9,1187.5 2241.0,1186.4 2242.1,1183.3 2243.2,1185.3 2244.3,1187.5 2245.4,1182.5 2246.5,1185.0 2247.6,1182.9 2248.7,1184.2 2249.8,1180.9 2250.9,1185.3 2252.1,1183.3 2253.2,1187.9 2254.3,1184.1 2255.4,1190.4 2256.5,1188.1 2257.6,1183.2 2258.7,1190.6 2259.8,1185.5 2260.9,1186.2 2262.0,1181.8 2263.1,1185.0 2264.2,1183.5 2265.4,1181.9 2266.5,1182.4 2267.6,1188.8 2268.7,1183.9 2269.8,1185.2 2270.9,1183.2 2272.0,1184.2 2273.1,1183.9 2274.2,1185.0 2275.3,1185.5 2276.4,1187.6 2277.5,1185.2 2278.7,1185.0 2279.8,1183.2 2280.9,1187.0 2282.0,1186.6 2283.1,1184.7 2284.2,1180.8 2285.3,1185.2 2286.4,1180.2 2287.5,1189.4 2288.6,1185.7 2289.7,1188.9 2290.8,1185.0 2292.0,1187.9 2293.1,1190.1 2294.2,1187.9 2295.3,1183.0 2296.4,1181.7 2297.5,1184.2 2298.6,1186.2 2299.7,1182.6 2300.8,1180.7 2301.9,1184.0 2303.0,1185.3 2304.2,1180.8 2305.3,1185.3 2306.4,1187.7 2307.5,1182.7 2308.6,1186.1 2309.7,1185.5 2310.8,1186.4 2312.0,1186.5 2313.0,1183.2 2314.1,1187.1 2315.2,1191.1 2316.3,1186.6 2317.5,1181.9 2318.6,1184.7 2319.7,1190.5 2320.8,1185.0 2321.9,1185.9 2323.0,1182.1 2324.1,1181.3 2325.2,1185.1 2326.3,1186.3 2327.4,1183.6 2328.5,1186.3 2329.6,1184.3 2330.8,1180.2 2331.9,1184.4 2333.0,1186.8 2334.1,1191.2 2335.2,1181.2 2336.3,1186.0 2337.4,1186.0 2338.5,1186.2 2339.6,1185.4 2340.7,1189.1 2341.8,1188.1 2342.9,1183.2 2344.1,1182.7 2345.2,1184.9 2346.3,1181.0 2347.4,1185.2 2348.5,1186.9 2349.6,1183.3 2350.7,1184.0 2351.8,1182.9 2352.9,1185.1 2354.0,1186.0 2355.1,1182.0 2356.2,1187.1 2357.4,1182.0 2358.5,1184.8 2359.6,1185.3 2360.7,1181.9 2361.8,1183.6 2362.9,1181.6 2364.0,1187.1 2365.1,1184.0 2366.2,1180.4 2367.3,1186.3 2368.4,1183.3 2369.6,1189.2 2370.7,1183.9 2371.8,1186.0 2372.9,1181.2 2374.0,1183.5 2375.1,1183.8 2376.2,1186.5 2377.3,1187.6 2378.4,1184.4 2379.5,1183.7 2380.6,1181.6 2381.7,1182.2 2382.9,1183.6 2384.0,1186.7 2385.1,1188.7 2386.2,1183.2 2387.3,1182.1 2388.4,1181.3 2389.5,1186.0 2390.6,1187.3 2391.7,1185.1 2392.8,1187.5 2393.9,1183.1 2395.0,1181.7 2396.2,1183.1 2397.3,1179.1 2398.4,1181.5 2399.5,1180.3 2400.6,1176.6 2401.7,1181.5 2402.8,1182.7 2403.9,1184.5 2405.0,1180.4 2406.1,1183.6 2407.2,1178.2 2408.3,1183.4 2409.5,1178.0 2410.6,1179.4 2411.7,1175.9 2412.8,1183.8 2413.9,1178.0 2415.3,1181.8"/>
<polyline stroke="#0000ff" points="198.0,1254.3 199.1,1264.3 200.2,1249.6 201.3,1251.8 202.4,1253.8 203.5,1260.6 204.7,1259.5 205.8,1246.3 206.9,1243.4 208.0,1242.0 209.1,1253.7 210.2,1252.6 211.3,1254.8 212.4,1257.7 213.5,1252.4 214.6,1238.6 215.7,1243.6 216.8,1265.1 218.0,1258.3 219.1,1252.6 220.2,1264.1 221.3,1253.0 222.4,1246.4 223.5,1254.3 224.6,1238.5 225.7,1245.0 226.8,1270.4 227.9,1233.4 229.0,1268.0 230.1,1236.7 231.3,1252.2 232.4,1247.6 233.5,1252.5 234.6,1256.0 235.7,1265.8 236.8,1260.7 237.9,1248.5 239.0,1278.9 240.1,1250.2 241.2,1250.3 242.3,1269.3 243.4,1235.5 244.6,1250.3 245.7,1257.3 246.8,1254.0 247.9,1259.2 249.0,1267.2 250.1,1255.1 251.2,1257.0 252.3,1245.4 253.4,1243.2 254.5,1241.1 255.6,1259.1 256.8,1246.0 257.9,1250.0 259.0,1256.4 260.1,1247.9 261.2,1248.6 262.3,1260.3 263.8,1251.4 264.5,1241.9 265.6,1241.3 266.7,1240.8 267.8,1222.5 268.9,1237.5 270.1,1227.6 271.2,1240.3 272.3,1242.0 273.4,1238.1 274.5,1253.4 275.6,1245.2 276.7,1242.7 277.8,1242.1 278.9,1249.3 280.0,1246.9 281.1,1251.3 282.2,1239.7 283.4,1249.1 284.5,1245.2 285.6,1238.0 286.7,1248.2 287.8,1235.3 288.9,1235.7 290.0,1239.5 291.1,1242.8 292.2,1245.7 293.3,1242.0 294.4,1232.2 295.5,1240.5 296.7,1232.3 297.8,1230.9 298.9,1241.7 300.0,1256.4 301.1,1237.6 302.2,1218.9 303.3,1244.1 304.4,1235.6 305.5,1220.7 306.6,1233.6 307.7,1248.2 308.9,1229.2 310.0,1227.8 311.1,1243.9 312.2,1226.8 312.9,1249.1 314.4,1226.2 315.5,1234.4 316.6,1236.2 317.7,1214.0 318.8,1238.0 319.9,1227.6 321.0,1242.1 322.2,1223.1 323.3,1229.2 324.4,1230.6 325.5,1235.1 326.6,1223.0 327.7,1220.9 328.8,1226.4 329.9,1221.8 331.0,1211.8 332.1,1225.5 333.2,1220.9 334.3,1218.9 335.5,1229.6 336.6,1212.5 337.7,1211.3 338.8,1218.6 340.0,1206.3 341.0,1207.4 342.1,1216.0 343.2,1214.7 344.3,1211.0 345.4,1208.1 346.5,1206.1 347.6,1197.0 348.8,1196.3 349.9,1203.8 351.0,1190.7 352.1,1203.5 353.5,1178.0 354.3,1193.5 355.4,1182.0 356.5,1198.4 357.6,1199.8 358.7,1182.2 359.8,1195.3 360.9,1193.3 362.1,1186.1 363.2,1173.9 364.3,1191.7 365.4,1183.1 366.3,1177.5 367.6,1169.1 368.7,1168.6 369.8,1157.3 370.9,1158.2 372.0,1151.7 373.4,1143.9 374.3,1132.5 375.4,1126.7 376.5,1116.6 377.6,1110.6 378.7,1099.8 379.8,1092.7 380.3,1090.3 380.9,1086.0 382.0,1078.1 383.1,1065.6 384.2,1057.8 385.3,1048.4 385.9,1042.9 386.4,1037.4 387.6,1027.1 388.7,1017.5 389.8,1007.3 390.9,999.7 391.6,992.5 393.1,984.3 394.2,974.8 395.3,968.7 396.4,962.4 397.5,954.4 398.6,948.9 399.7,940.8 400.9,936.6 402.0,927.0 403.4,918.2 404.2,915.3 405.3,912.9 406.4,907.9 407.5,907.1 409.0,898.3 409.7,899.3 410.8,898.3 411.9,894.5 413.0,895.4 414.2,892.0 415.3,893.4 416.4,895.8 417.5,895.5 418.6,895.4 420.0,900.4 420.8,903.5 421.9,907.9 423.0,907.5 424.1,912.7 425.2,918.0 426.0,921.3 427.5,930.2 428.6,933.0 429.7,942.7 430.8,949.6 431.9,958.9 433.4,969.5 434.1,972.1 435.2,978.7 436.3,987.3 437.6,993.4 438.5,1002.1 439.7,1013.8 440.8,1022.5 441.9,1034.4 442.5,1040.2 444.1,1059.9 445.2,1068.7 446.3,1079.1 447.4,1091.3 448.5,1099.4 449.6,1108.6 450.7,1119.2 451.8,1130.4 453.0,1136.5 453.6,1139.8 455.2,1148.6 456.3,1157.6 457.4,1166.8 458.5,1180.4 459.6,1182.1 460.7,1178.9 461.8,1190.6 462.9,1208.2 464.0,1195.4 465.1,1205.0 466.3,1206.3 467.3,1220.5 468.5,1209.5 469.6,1233.1 470.7,1228.2 471.8,1231.0 472.9,1234.5 474.0,1240.7 475.1,1240.4 476.2,1222.4 477.3,1229.5 478.5,1235.8 479.6,1233.7 480.7,1241.8 481.8,1235.7 482.9,1214.3 484.0,1219.2 485.0,1224.7 486.2,1225.3 487.3,1221.7 488.4,1208.7 489.5,1220.0 490.6,1222.4 491.8,1219.4 492.9,1232.9 494.0,1235.3 495.1,1221.4 496.2,1219.7 497.3,1229.2 498.4,1224.3 499.5,1234.6 500.6,1233.0 501.7,1212.4 502.8,1226.2 503.9,1230.0 505.1,1228.4 506.2,1244.3 507.3,1228.6 508.4,1241.4 509.5,1218.8 510.6,1237.2 511.7,1220.3 512.8,1243.3 513.9,1242.0 515.0,1237.3 516.1,1231.8 517.2,1239.2 518.4,1251.7 519.5,1251.4 520.6,1260.9 521.7,1238.8 522.8,1254.1 523.9,1253.3 525.0,1248.6 526.1,1244.1 527.2,1251.7 528.3,1243.2 529.4,1255.1 530.5,1262.3 531.7,1270.4 532.8,1246.5 534.2,1261.4 535.0,1242.8 536.1,1261.7 537.2,1258.0 538.3,1261.4 539.4,1252.3 540.5,1247.9 541.6,1258.0 542.7,1252.5 543.9,1266.6 545.0,1257.3 546.1,1265.7 547.2,1249.8 548.3,1252.0 549.4,1233.7 550.5,1266.3 551.6,1264.4 552.7,1275.7 553.8,1268.2 554.9,1274.4 556.0,1263.1 557.2,1267.4 558.3,1264.8 559.4,1269.7 560.5,1265.2 561.6,1273.7 562.7,1273.4 563.8,1272.9 564.9,1265.8 566.0,1274.7 567.1,1259.2 568.2,1263.9 569.3,1273.5 570.5,1269.8 571.6,1276.5 572.7,1269.2 573.8,1263.0 574.9,1271.8 576.0,1270.8 577.1,1271.3 578.2,1269.8 579.3,1262.1 580.4,1259.5 581.5,1287.1 582.6,1266.2 583.4,1284.2 584.9,1280.2 586.0,1272.1 587.1,1274.6 588.2,1276.9 589.3,1280.0 590.4,1276.0 591.5,1276.7 592.6,1280.0 593.7,1290.0 594.8,1264.9 596.0,1268.2 597.1,1280.4 598.2,1282.4 599.3,1303.8 600.4,1283.2 601.5,1288.9 602.6,1285.4 603.7,1269.9 604.8,1271.3 605.9,1273.2 607.0,1291.7 608.1,1287.7 609.3,1270.2 610.4,1271.1 611.5,1276.8 612.6,1270.1 613.7,1291.5 614.8,1281.6 615.9,1272.7 617.0,1285.1 618.1,1292.1 619.2,1279.8 620.3,1285.5 621.4,1298.3 622.6,1277.7 623.7,1267.3 624.8,1270.1 625.9,1305.1 627.0,1278.4 628.1,1287.0 629.2,1275.8 630.3,1280.0 631.4,1308.4 632.5,1285.0 633.6,1278.6 634.7,1302.8 635.9,1291.3 637.0,1278.3 638.1,1301.2 639.2,1294.6 640.3,1297.8 641.4,1298.0 642.5,1302.5 643.6,1309.1 644.7,1286.5 645.8,1285.1 646.9,1299.9 648.1,1277.4 649.2,1305.2 650.3,1304.1 651.4,1278.7 652.5,1291.3 653.6,1289.7 654.7,1280.1 655.8,1290.2 656.9,1293.2 658.0,1280.8 659.1,1295.0 660.2,1291.8 661.4,1276.8 662.5,1296.8 663.6,1300.6 664.7,1298.4 665.8,1280.6 666.9,1297.9 668.0,1283.6 669.1,1283.4 670.2,1294.8 671.3,1300.5 672.4,1275.9 673.5,1294.4 674.7,1296.6 675.8,1297.6 676.9,1305.8 678.0,1290.0 679.1,1302.1 680.2,1284.0 681.3,1300.3 682.4,1303.2 683.0,1287.3 683.5,1294.5 684.6,1301.5 685.7,1287.1 686.8,1293.1 688.0,1309.8 689.1,1309.7 690.2,1265.2 691.3,1287.0 692.4,1293.0 693.5,1293.3 694.6,1277.0 695.7,1290.7 696.8,1308.7 697.9,1295.5 699.0,1294.5 700.2,1285.4 701.3,1313.4 702.4,1324.4 703.5,1292.8 704.6,1299.6 705.7,1306.4 706.8,1307.7 707.9,1308.1 709.0,1284.2 710.1,1298.7 711.2,1302.2 712.3,1300.9 713.5,1309.6 714.6,1305.7 715.7,1299.2 716.8,1301.6 717.9,1316.9 719.0,1321.0 720.1,1296.1 721.2,1277.3 722.3,1303.8 723.4,1296.9 724.5,1306.1 725.6,1301.5 726.8,1300.3 727.9,1307.6 729.0,1303.3 730.1,1310.1 731.2,1277.6 732.3,1323.9 733.4,1338.8 734.5,1291.6 735.6,1289.3 736.7,1326.4 737.8,1304.8 738.9,1307.9 740.1,1308.8 741.2,1292.5 742.3,1293.9 743.4,1311.3 744.5,1285.9 745.6,1292.8 746.7,1327.2 747.8,1302.5 748.9,1308.4 750.0,1310.9 751.1,1314.8 752.2,1304.0 753.4,1317.2 754.5,1275.9 755.6,1308.8 756.7,1303.7 757.8,1317.6 758.9,1320.6 760.0,1302.3 761.1,1316.0 762.2,1334.8 763.3,1306.4 764.4,1302.8 765.6,1339.1 766.7,1292.2 767.8,1310.1 768.9,1304.5 770.0,1338.6 771.1,1288.7 772.2,1306.4 773.3,1283.9 774.4,1316.7 775.5,1332.2 776.6,1295.9 777.7,1288.4 778.9,1332.6 780.0,1290.1 781.1,1305.2 782.2,1309.8 783.3,1302.3 784.4,1304.0 786.0,1319.3 786.6,1307.7 787.7,1310.2 788.8,1309.0 789.9,1309.9 791.0,1313.6 792.2,1317.1 793.3,1296.8 794.4,1311.1 795.5,1325.6 796.6,1309.3 797.7,1323.8 798.8,1308.6 799.9,1314.7 801.0,1323.8 802.1,1319.3 803.2,1319.8 804.3,1321.1 805.5,1311.5 806.6,1306.0 807.7,1317.4 808.8,1313.9 809.9,1320.9 811.0,1329.8 812.1,1325.6 813.2,1321.1 814.3,1320.6 815.4,1337.2 816.5,1307.3 817.7,1300.1 818.8,1309.2 819.9,1348.0 821.0,1330.4 822.1,1307.0 823.2,1320.0 824.3,1300.1 825.4,1327.2 826.5,1340.0 827.6,1321.4 828.7,1316.1 829.8,1347.7 831.0,1316.2 832.1,1316.9 833.2,1336.7 834.3,1296.6 835.4,1316.0 836.5,1329.7 837.6,1330.4 838.7,1347.1 839.8,1335.8 840.9,1319.5 842.0,1339.0 843.1,1328.8 844.3,1327.5 845.4,1321.9 846.5,1329.3 847.6,1333.3 848.7,1322.2 849.8,1330.0 850.9,1317.1 852.0,1321.6 853.1,1317.4 854.2,1310.9 855.3,1313.4 856.4,1333.8 857.6,1321.1 858.7,1326.1 859.8,1309.3 860.9,1325.6 862.0,1321.3 863.1,1316.9 864.2,1302.7 865.3,1356.0 866.4,1322.2 867.5,1313.9 868.6,1335.4 869.8,1333.1 870.9,1301.6 872.0,1318.4 873.1,1305.2 874.2,1313.2 875.3,1324.9 876.4,1309.1 877.5,1334.7 878.6,1314.1 879.7,1323.4 880.8,1314.0 881.9,1322.6 883.1,1312.7 884.2,1323.5 885.3,1341.4 886.4,1334.7 887.5,1332.7 888.6,1328.7 889.7,1333.5 890.8,1313.8 891.9,1320.5 893.0,1327.1 894.1,1336.1 895.2,1297.3 896.4,1316.7 897.5,1319.4 898.6,1325.3 899.7,1328.1 900.8,1320.5 901.9,1314.3 903.0,1326.1 904.1,1310.0 905.2,1316.4 906.3,1342.7 907.4,1320.4 908.5,1336.9 909.7,1332.6 910.8,1291.9 911.9,1330.4 913.0,1330.7 914.1,1336.7 914.9,1305.7 916.3,1338.7 917.4,1317.3 918.5,1310.7 919.6,1307.3 920.7,1314.1 921.9,1330.1 923.0,1336.6 924.1,1293.6 925.2,1321.3 926.3,1319.8 927.4,1324.7 928.5,1329.1 929.6,1318.6 930.7,1321.4 931.8,1309.1 932.9,1305.8 934.0,1317.7 935.2,1333.0 936.3,1334.8 937.4,1327.3 938.5,1322.8 939.6,1286.9 940.7,1332.8 941.8,1322.4 942.9,1322.0 944.0,1324.1 945.1,1325.3 946.2,1328.0 947.3,1321.8 948.5,1327.1 949.6,1311.0 950.7,1324.9 951.8,1335.5 952.9,1324.4 954.0,1334.9 955.1,1309.9 956.2,1316.6 957.3,1325.7 958.4,1323.5 959.5,1314.8 960.6,1319.3 961.8,1313.3 962.9,1307.1 964.0,1321.7 965.1,1327.2 966.2,1344.8 967.3,1338.9 968.4,1317.8 969.5,1325.7 970.6,1293.7 971.7,1356.6 972.8,1314.8 974.0,1324.6 975.1,1348.5 976.2,1324.5 977.3,1356.3 978.4,1305.1 979.5,1319.2 980.6,1336.1 981.7,1334.7 982.8,1335.8 983.9,1352.7 985.0,1332.0 986.1,1323.4 987.3,1309.5 988.4,1320.6 989.5,1320.4 990.6,1326.4 991.7,1323.7 992.2,1334.9 992.8,1318.3 993.9,1313.2 995.0,1338.4 996.1,1315.8 997.2,1339.6 998.3,1320.9 999.4,1331.7 1000.6,1333.0 1001.7,1316.4 1002.8,1327.3 1003.9,1322.0 1005.0,1318.9 1006.1,1325.2 1007.2,1308.8 1008.3,1317.0 1009.4,1304.4 1010.5,1326.2 1011.6,1315.7 1012.7,1304.5 1013.9,1316.2 1015.0,1322.1 1016.1,1302.5 1017.2,1299.3 1018.0,1302.2 1019.4,1314.2 1020.5,1316.0 1021.6,1323.0 1022.7,1318.6 1023.8,1308.5 1024.9,1304.9 1026.0,1281.9 1027.2,1316.3 1028.3,1308.3 1029.4,1305.7 1030.5,1332.2 1031.6,1315.9 1032.7,1317.1 1033.8,1306.2 1034.9,1321.7 1036.0,1337.3 1037.1,1313.6 1038.2,1319.2 1039.4,1308.9 1040.5,1310.4 1041.6,1317.7 1042.7,1317.8 1043.8,1304.0 1044.9,1296.0 1046.0,1305.7 1047.1,1303.1 1048.2,1329.0 1049.3,1310.8 1050.4,1305.1 1051.5,1324.8 1052.7,1332.2 1053.8,1303.4 1054.9,1304.7 1056.0,1315.2 1057.1,1303.2 1058.2,1315.4 1059.3,1331.1 1060.4,1325.8 1061.5,1321.9 1062.6,1299.1 1063.7,1295.2 1064.8,1304.9 1066.0,1305.8 1067.1,1311.5 1068.2,1315.1 1069.4,1295.9 1070.4,1303.4 1071.5,1287.6 1072.6,1307.7 1073.7,1300.6 1074.8,1306.5 1075.9,1295.3 1077.0,1307.0 1078.1,1298.4 1079.3,1319.1 1080.4,1293.6 1081.5,1301.8 1082.6,1288.3 1083.7,1307.9 1084.8,1321.0 1085.9,1318.9 1087.0,1304.3 1088.1,1308.8 1089.2,1316.7 1090.3,1270.1 1091.5,1300.5 1092.6,1307.5 1093.7,1303.2 1094.8,1284.8 1095.9,1313.2 1097.0,1294.1 1098.1,1307.2 1099.2,1305.7 1100.3,1301.8 1101.4,1300.9 1102.5,1315.3 1103.6,1305.8 1104.8,1297.8 1105.9,1285.8 1107.0,1301.9 1108.1,1300.6 1109.2,1309.5 1110.3,1300.7 1111.4,1308.6 1112.5,1292.5 1113.6,1312.9 1114.7,1314.5 1115.8,1300.0 1116.9,1309.0 1118.1,1291.6 1119.2,1305.1 1120.3,1297.1 1121.4,1309.6 1122.5,1299.6 1123.6,1304.6 1124.7,1291.7 1125.8,1294.5 1126.9,1301.3 1128.0,1304.9 1129.1,1283.3 1130.0,1319.1 1131.4,1292.4 1132.5,1288.0 1133.6,1287.9 1134.7,1298.2 1135.8,1301.9 1136.9,1283.6 1138.0,1288.6 1139.1,1301.0 1140.2,1299.5 1141.3,1305.5 1142.4,1306.4 1143.6,1299.9 1144.7,1286.9 1145.8,1303.6 1146.9,1311.3 1148.0,1285.4 1149.1,1296.7 1150.2,1300.0 1151.3,1295.8 1152.4,1313.9 1153.5,1307.8 1154.6,1281.2 1155.7,1290.3 1156.9,1296.5 1158.0,1302.6 1159.1,1299.8 1160.2,1307.9 1161.3,1288.6 1162.4,1297.2 1163.5,1296.9 1164.6,1305.5 1165.7,1299.6 1166.8,1312.2 1167.9,1284.9 1169.0,1271.7 1170.2,1306.7 1171.3,1312.8 1172.4,1279.2 1173.5,1307.7 1174.6,1298.3 1175.7,1307.5 1176.8,1316.5 1177.9,1282.5 1179.0,1312.5 1180.1,1301.2 1181.2,1297.0 1182.3,1285.4 1183.5,1306.2 1184.6,1314.0 1185.7,1292.5 1186.8,1299.3 1187.9,1280.2 1189.0,1293.8 1190.1,1290.0 1191.2,1292.2 1192.3,1289.7 1193.4,1273.0 1194.5,1303.7 1195.7,1314.3 1196.8,1283.7 1197.9,1315.4 1199.0,1271.6 1200.1,1303.4 1201.2,1313.9 1202.6,1281.9 1203.4,1289.8 1205.0,1309.6 1205.6,1284.8 1206.7,1273.7 1207.8,1285.5 1209.0,1292.8 1210.0,1264.9 1211.2,1267.8 1212.3,1272.0 1213.4,1257.7 1214.5,1263.5 1215.6,1238.6 1216.7,1237.3 1217.8,1241.7 1218.9,1233.3 1219.8,1224.8 1221.1,1213.3 1222.3,1231.2 1223.4,1217.2 1224.5,1223.7 1225.6,1223.0 1226.7,1237.1 1227.8,1218.2 1228.9,1216.1 1230.0,1228.0 1231.1,1221.1 1232.2,1205.8 1233.3,1225.4 1234.4,1215.5 1235.6,1199.1 1236.7,1217.2 1237.8,1210.9 1238.9,1200.4 1240.0,1229.1 1241.1,1211.0 1242.0,1201.3 1243.3,1194.0 1244.4,1189.1 1245.5,1188.0 1246.6,1180.2 1247.7,1180.8 1248.9,1204.4 1250.0,1178.1 1251.1,1177.6 1251.8,1184.4 1253.3,1170.0 1254.4,1162.9 1255.5,1171.8 1256.4,1154.5 1257.7,1153.2 1258.8,1161.0 1259.9,1153.8 1261.1,1155.6 1262.2,1154.4 1263.3,1156.6 1264.6,1151.7 1265.5,1154.5 1266.6,1150.2 1267.7,1164.7 1268.8,1145.6 1269.9,1139.0 1271.0,1158.6 1272.1,1158.0 1273.2,1153.0 1274.4,1139.4 1275.5,1139.4 1276.3,1145.6 1277.7,1145.4 1278.8,1144.8 1279.9,1139.4 1281.0,1140.3 1282.1,1136.8 1283.2,1125.0 1284.3,1136.6 1285.4,1133.0 1286.5,1141.4 1287.7,1130.2 1288.8,1139.4 1289.9,1139.9 1291.0,1156.6 1292.1,1145.6 1293.2,1141.0 1294.1,1150.5 1295.4,1131.9 1296.5,1140.2 1297.6,1145.8 1298.7,1149.0 1299.8,1143.2 1301.0,1133.1 1302.1,1137.4 1303.2,1133.2 1304.3,1125.4 1305.6,1123.8 1306.5,1127.5 1307.6,1132.1 1308.7,1131.6 1309.8,1136.2 1310.9,1123.0 1312.0,1126.9 1313.2,1127.3 1314.3,1125.4 1315.4,1119.4 1316.5,1132.6 1317.6,1116.7 1318.7,1120.0 1319.8,1113.9 1320.9,1116.0 1322.0,1119.6 1323.1,1109.3 1324.2,1109.7 1325.3,1101.0 1326.5,1111.9 1327.6,1113.7 1328.7,1102.0 1329.8,1101.3 1330.9,1104.9 1331.8,1099.7 1333.1,1096.1 1334.2,1090.9 1335.3,1097.3 1336.4,1092.0 1337.5,1085.5 1338.4,1084.6 1339.8,1080.0 1340.9,1074.5 1342.0,1073.9 1343.1,1074.1 1344.2,1069.8 1345.3,1065.2 1346.6,1065.6 1347.5,1059.1 1349.0,1045.9 1349.7,1042.3 1350.8,1035.9 1351.9,1023.7 1353.4,1016.1 1354.2,999.7 1355.1,981.8 1356.4,957.9 1356.9,948.1 1357.5,939.9 1358.7,915.1 1359.2,898.7 1359.7,846.9 1360.9,724.2 1361.7,672.6 1362.4,645.5 1363.0,639.2 1364.1,638.6 1365.1,630.6 1366.4,632.3 1367.5,634.9 1368.7,635.1 1369.7,650.6 1370.2,658.0 1370.8,671.5 1371.8,695.3 1372.5,733.0 1373.3,780.1 1374.0,847.3 1375.2,879.2 1376.0,895.6 1377.4,904.0 1378.6,911.1 1380.0,924.5 1380.8,922.9 1381.9,925.5 1383.0,926.3 1384.1,929.1 1385.7,932.1 1386.3,930.9 1387.4,926.1 1388.5,925.1 1389.6,924.2 1391.0,919.0 1391.9,917.2 1393.0,913.7 1394.1,908.4 1395.2,904.6 1396.3,899.5 1397.4,901.5 1398.5,897.2 1399.6,893.9 1400.7,889.7 1401.8,882.1 1403.4,881.3 1404.0,877.5 1405.2,870.4 1406.3,872.6 1407.4,867.0 1408.4,863.1 1409.6,856.1 1410.7,852.3 1411.6,848.6 1412.9,843.1 1414.0,838.7 1415.1,837.4 1416.2,833.2 1417.4,833.2 1418.5,823.0 1419.8,817.4 1420.7,813.6 1421.8,811.4 1422.9,807.7 1423.9,806.4 1425.1,798.3 1426.4,788.2 1427.3,786.4 1428.4,785.4 1429.5,784.5 1430.7,783.0 1431.3,781.8 1432.9,773.5 1434.0,766.0 1435.1,756.9 1436.2,750.3 1437.3,743.2 1438.4,734.1 1439.5,730.4 1441.1,716.5 1441.7,714.5 1442.8,707.2 1444.4,699.2 1445.1,696.4 1446.2,690.5 1447.3,684.7 1448.4,676.6 1449.8,671.7 1450.6,650.2 1451.7,623.7 1452.6,604.0 1453.9,585.3 1455.0,571.7 1456.0,554.2 1457.3,528.5 1458.5,500.8 1459.5,462.3 1460.1,440.1 1462.0,398.8 1462.8,372.2 1463.9,336.9 1465.0,299.9 1466.1,270.1 1467.2,236.9 1468.5,198.7 1469.4,174.2 1470.6,141.6 1472.0,99.6 1472.8,90.3 1473.9,75.4 1475.0,66.2 1475.6,56.0 1476.1,68.4 1477.7,98.2 1478.3,110.8 1479.4,135.2 1480.5,156.6 1482.1,187.6 1483.0,337.6 1483.9,379.9 1485.0,441.5 1486.1,467.4 1487.2,497.2 1488.3,526.4 1489.5,556.9 1490.5,567.4 1491.6,578.3 1492.7,592.5 1494.0,605.7 1494.9,608.2 1496.1,615.6 1497.2,624.6 1498.3,631.6 1499.4,641.9 1500.5,650.8 1501.6,658.5 1502.7,662.7 1503.4,669.2 1504.9,677.0 1506.0,685.3 1507.1,688.8 1508.2,694.7 1509.0,699.1 1510.5,706.4 1511.6,708.5 1512.7,712.4 1513.8,716.7 1514.9,722.6 1516.0,725.9 1517.1,732.0 1518.2,735.2 1519.3,736.2 1520.4,740.9 1521.5,748.6 1522.4,749.2 1523.8,753.6 1524.9,760.5 1526.0,761.6 1527.1,769.0 1528.2,771.1 1529.3,772.0 1530.4,782.3 1531.5,782.1 1532.6,788.6 1533.7,791.4 1534.9,796.3 1535.5,796.9 1537.1,802.9 1538.2,804.9 1539.3,812.8 1540.4,816.5 1541.5,821.7 1542.6,822.6 1543.7,830.3 1544.6,830.3 1545.9,837.7 1547.0,842.1 1548.2,852.3 1549.3,856.4 1550.7,863.0 1551.5,865.9 1552.6,869.2 1553.7,875.1 1554.8,879.3 1555.9,881.8 1557.0,883.8 1558.1,886.1 1559.2,893.4 1560.5,896.0 1561.5,899.6 1562.6,901.9 1563.7,906.2 1564.8,908.4 1565.9,912.1 1567.0,916.1 1568.1,918.5 1569.2,921.6 1570.3,929.6 1571.2,928.9 1572.5,934.4 1573.6,935.7 1574.8,941.7 1575.9,946.2 1577.0,950.8 1578.1,956.0 1579.2,957.7 1580.3,963.1 1581.4,968.4 1582.5,971.7 1584.1,978.5 1584.7,983.8 1585.8,988.3 1587.0,990.2 1588.1,995.2 1589.2,998.5 1590.3,1002.7 1591.4,1007.6 1592.7,1011.6 1593.6,1011.9 1594.7,1015.2 1595.8,1019.2 1596.9,1020.2 1598.0,1024.1 1599.1,1028.8 1600.0,1030.3 1601.4,1035.8 1602.5,1038.4 1603.6,1042.4 1604.7,1047.4 1605.8,1051.1 1606.9,1052.9 1608.0,1059.6 1609.1,1060.2 1610.5,1071.1 1611.3,1069.6 1612.4,1072.6 1613.6,1075.6 1614.7,1080.4 1615.8,1083.1 1616.9,1092.0 1618.0,1088.7 1619.1,1096.9 1620.2,1098.2 1621.1,1100.9 1622.4,1101.7 1623.5,1107.4 1624.6,1108.9 1625.7,1110.4 1626.9,1108.2 1628.0,1120.9 1629.1,1116.8 1630.2,1126.4 1631.6,1124.9 1632.4,1125.1 1633.5,1123.0 1634.6,1135.3 1635.7,1136.3 1636.8,1135.1 1637.9,1138.9 1639.0,1140.6 1640.2,1144.5 1641.3,1150.6 1642.1,1145.8 1643.5,1145.2 1644.6,1161.2 1645.7,1142.6 1646.8,1138.1 1647.9,1144.5 1649.0,1163.5 1650.6,1165.5 1651.2,1166.1 1652.4,1167.2 1653.5,1161.7 1654.6,1165.7 1655.7,1173.2 1656.8,1159.0 1657.9,1166.2 1659.0,1171.9 1660.1,1176.5 1661.2,1175.2 1662.3,1171.3 1663.4,1177.0 1664.5,1182.8 1665.7,1180.6 1666.8,1161.7 1667.9,1170.6 1669.0,1193.6 1669.5,1198.0 1670.1,1190.6 1671.2,1196.6 1672.3,1195.3 1673.4,1196.3 1674.5,1186.5 1675.6,1191.3 1676.7,1200.9 1678.0,1209.8 1679.0,1197.7 1680.1,1187.7 1681.2,1195.4 1682.3,1185.0 1683.4,1192.4 1684.5,1182.7 1685.6,1181.2 1686.4,1183.1 1687.8,1177.5 1688.9,1161.2 1690.0,1154.3 1691.1,1142.2 1692.7,1144.7 1693.4,1143.3 1694.5,1139.6 1695.6,1146.2 1696.7,1156.4 1697.8,1160.7 1699.1,1165.3 1700.0,1178.1 1701.1,1198.7 1702.2,1205.2 1703.3,1220.4 1704.5,1203.0 1705.6,1219.5 1706.7,1220.8 1707.8,1237.4 1708.9,1238.3 1709.6,1229.4 1711.1,1223.4 1712.2,1230.3 1713.3,1217.9 1714.4,1223.2 1715.5,1231.1 1716.6,1221.2 1718.0,1222.8 1718.9,1215.3 1720.0,1217.2 1721.1,1208.6 1722.2,1221.0 1723.3,1200.9 1724.4,1209.9 1725.4,1201.3 1726.6,1242.6 1727.5,1257.5 1728.8,1254.4 1729.9,1231.6 1731.1,1241.3 1732.0,1237.9 1733.3,1224.4 1734.4,1231.6 1735.5,1227.5 1736.6,1240.4 1737.7,1233.9 1738.8,1238.4 1739.9,1220.7 1741.2,1219.1 1742.1,1228.4 1743.2,1213.9 1744.4,1212.9 1745.5,1225.7 1746.6,1211.2 1747.5,1210.1 1748.8,1205.9 1749.9,1183.3 1751.0,1197.5 1752.1,1197.2 1753.2,1175.5 1753.8,1176.1 1754.3,1179.8 1755.4,1159.9 1756.6,1151.7 1757.7,1151.2 1758.8,1137.5 1760.2,1136.0 1761.0,1121.1 1762.1,1118.8 1763.2,1110.5 1764.3,1100.6 1765.4,1091.5 1766.5,1090.9 1767.6,1085.2 1768.7,1073.8 1769.9,1067.3 1771.0,1061.3 1772.1,1053.5 1772.8,1052.0 1774.3,1044.0 1775.4,1038.1 1776.5,1035.2 1777.6,1027.9 1778.7,1026.9 1779.8,1020.0 1781.2,1014.2 1782.0,1009.7 1783.2,1007.3 1784.3,1003.3 1785.4,1000.9 1786.5,997.4 1787.6,997.4 1788.7,993.1 1789.7,988.0 1790.9,987.7 1792.0,988.0 1793.1,985.3 1794.2,987.8 1795.3,984.9 1796.5,984.0 1797.0,983.7 1797.6,984.0 1798.7,985.8 1799.8,984.8 1800.9,986.2 1802.0,986.4 1803.1,984.6 1804.2,988.7 1805.3,992.3 1806.4,990.1 1807.5,994.6 1808.7,1001.5 1809.8,1003.2 1810.9,1011.4 1812.0,1014.0 1813.1,1021.1 1813.9,1024.7 1815.3,1034.1 1816.4,1036.1 1817.5,1045.7 1818.6,1051.3 1819.7,1056.5 1820.8,1061.8 1822.0,1064.4 1823.1,1073.9 1824.5,1081.0 1825.3,1090.6 1826.4,1098.0 1827.5,1115.6 1828.6,1119.6 1829.7,1124.9 1830.8,1129.5 1831.5,1156.0 1833.0,1160.6 1834.1,1171.2 1835.3,1176.3 1836.4,1189.8 1837.5,1195.5 1838.5,1209.2 1839.7,1215.4 1840.8,1221.3 1841.9,1228.5 1843.0,1238.8 1844.1,1246.7 1845.5,1250.3 1846.3,1262.2 1847.4,1269.7 1848.6,1277.4 1849.7,1254.5 1850.8,1294.6 1851.9,1291.0 1852.6,1285.8 1854.1,1293.6 1855.2,1318.2 1856.3,1307.2 1857.4,1309.4 1858.5,1328.9 1859.6,1330.4 1860.8,1313.7 1861.9,1329.2 1863.0,1316.9 1864.1,1325.4 1865.2,1317.7 1866.6,1344.8 1867.4,1344.9 1868.5,1320.3 1869.6,1342.0 1870.7,1312.4 1871.8,1347.6 1872.9,1337.0 1874.1,1331.1 1875.2,1330.4 1876.3,1355.3 1877.4,1338.1 1878.5,1356.4 1879.6,1361.3 1880.7,1350.0 1881.8,1333.7 1882.9,1367.2 1884.1,1356.4 1885.1,1351.0 1886.2,1380.5 1887.4,1362.8 1888.5,1355.0 1889.6,1351.5 1890.7,1363.1 1891.8,1365.7 1892.9,1364.2 1894.0,1390.9 1895.1,1391.2 1896.2,1372.5 1897.3,1370.5 1898.4,1340.1 1899.5,1385.9 1900.7,1362.4 1901.8,1405.4 1902.9,1381.7 1904.0,1371.7 1905.1,1371.2 1906.2,1374.0 1907.3,1363.9 1908.7,1378.0 1909.5,1380.6 1910.6,1379.0 1911.7,1346.5 1912.8,1387.3 1914.0,1380.1 1915.1,1375.5 1916.2,1398.3 1917.3,1379.2 1918.4,1405.1 1919.5,1399.0 1920.6,1421.2 1921.7,1413.5 1922.8,1364.0 1923.9,1393.7 1925.0,1421.1 1926.2,1424.1 1927.3,1404.8 1928.4,1427.2 1929.5,1412.9 1930.6,1411.8 1931.7,1425.1 1932.8,1397.8 1933.9,1427.6 1935.0,1419.3 1936.1,1434.3 1937.2,1438.3 1938.3,1409.4 1939.5,1403.4 1940.6,1389.9 1941.7,1419.5 1943.0,1455.9 1943.9,1444.8 1945.0,1421.1 1946.1,1424.9 1947.2,1427.0 1948.3,1428.1 1949.4,1437.9 1950.5,1448.2 1951.6,1423.9 1952.8,1454.2 1953.9,1399.2 1955.0,1422.1 1956.1,1432.8 1957.2,1483.3 1958.3,1444.8 1959.4,1436.2 1960.5,1437.6 1961.6,1438.3 1962.7,1422.5 1963.8,1440.7 1964.9,1452.2 1966.1,1444.5 1967.6,1454.2 1968.3,1416.3 1969.4,1463.3 1970.5,1485.4 1971.6,1416.6 1972.7,1474.9 1973.8,1445.3 1974.9,1523.7 1976.0,1524.3 1977.1,1423.6 1978.3,1456.5 1979.4,1478.0 1980.5,1473.6 1981.6,1431.0 1982.7,1431.2 1983.8,1450.8 1984.9,1468.5 1986.0,1444.9 1987.1,1476.9 1988.2,1471.9 1989.3,1471.2 1990.4,1464.5 1991.6,1487.7 1992.2,1460.5 1993.8,1464.8 1994.9,1454.7 1996.0,1495.3 1997.1,1441.3 1998.2,1486.9 1999.3,1447.0 2000.4,1495.2 2001.5,1479.2 2002.6,1472.7 2003.7,1508.0 2004.9,1472.1 2006.0,1467.1 2007.1,1442.0 2008.2,1489.5 2009.3,1428.7 2010.4,1438.2 2011.5,1472.3 2012.6,1512.0 2013.7,1492.9 2014.8,1496.8 2015.9,1438.8 2016.8,1534.7 2018.2,1504.5 2019.3,1456.2 2020.4,1491.4 2021.5,1484.7 2022.6,1449.6 2023.7,1518.9 2024.8,1507.5 2025.9,1464.6 2027.0,1472.1 2028.1,1472.2 2029.2,1507.5 2030.4,1472.4 2031.5,1471.1 2032.6,1506.6 2033.7,1476.1 2034.8,1485.9 2035.9,1508.5 2037.0,1485.8 2038.1,1520.1 2039.2,1511.9 2040.3,1512.2 2041.4,1559.7 2042.5,1558.0 2043.7,1515.3 2044.8,1541.8 2045.9,1417.5 2047.0,1485.2 2048.1,1469.6 2049.2,1520.8 2050.3,1491.9 2051.4,1493.4 2052.5,1504.7 2053.6,1499.9 2054.7,1506.7 2055.8,1536.5 2057.0,1578.0 2058.1,1494.1 2059.2,1510.7 2060.3,1464.4 2061.4,1529.9 2062.5,1495.8 2063.6,1514.2 2064.7,1478.6 2066.0,1500.8 2066.9,1533.7 2068.0,1471.5 2069.1,1534.6 2070.3,1528.2 2071.4,1505.3 2072.5,1497.3 2073.6,1538.4 2074.7,1530.1 2075.8,1503.0 2076.9,1525.8 2078.0,1450.6 2079.1,1494.0 2080.2,1471.9 2081.3,1505.1 2082.4,1404.5 2083.6,1488.8 2084.7,1521.9 2085.8,1525.2 2086.9,1503.1 2088.0,1511.4 2089.1,1524.1 2090.6,1518.5 2091.3,1518.0 2092.4,1532.0 2093.5,1510.8 2094.6,1542.0 2095.8,1552.5 2096.9,1495.0 2098.0,1530.1 2099.1,1505.8 2100.2,1550.9 2101.3,1506.5 2102.4,1559.8 2103.5,1494.7 2104.6,1527.7 2105.7,1493.4 2106.8,1483.9 2107.9,1473.0 2109.1,1552.1 2110.2,1514.4 2111.3,1478.0 2112.4,1500.7 2113.5,1527.9 2114.6,1510.4 2115.2,1530.7 2115.7,1505.5 2116.8,1569.0 2117.9,1575.5 2119.0,1582.0 2120.1,1538.0 2121.2,1505.3 2122.4,1513.1 2123.5,1532.0 2124.6,1475.6 2125.7,1584.2 2126.8,1512.6 2127.9,1485.0 2129.0,1574.3 2130.1,1470.4 2131.2,1496.2 2132.3,1423.0 2133.4,1495.2 2134.5,1522.4 2135.7,1552.3 2136.8,1524.3 2137.9,1481.0 2139.0,1511.5 2140.1,1554.9 2141.2,1519.4 2142.3,1545.5 2143.4,1527.9 2144.5,1532.6 2145.6,1543.3 2146.7,1512.6 2147.9,1539.8 2149.0,1550.3 2150.0,1566.5 2151.2,1591.8 2152.3,1509.6 2153.4,1541.9 2154.5,1541.2 2155.6,1567.7 2156.7,1569.2 2157.8,1519.7 2158.9,1528.3 2160.0,1580.7 2161.2,1506.2 2162.3,1518.5 2163.4,1533.8 2164.5,1516.2 2165.6,1559.6 2166.7,1556.2 2167.8,1532.4 2168.9,1518.8 2170.0,1569.6 2171.1,1530.7 2172.2,1559.7 2173.3,1516.0 2174.5,1482.8 2175.6,1609.0 2176.7,1583.4 2177.8,1538.2 2178.9,1581.4 2180.0,1520.5 2181.1,1570.8 2182.2,1613.6 2183.3,1516.6 2184.4,1581.6 2185.5,1530.6 2186.6,1605.5 2187.8,1585.0 2188.9,1587.2 2190.0,1586.4 2191.1,1552.2 2192.2,1538.8 2193.3,1603.9 2194.4,1567.1 2195.5,1546.2 2196.6,1526.9 2197.7,1544.0 2198.8,1626.7 2200.0,1570.1 2201.1,1558.9 2202.2,1535.2 2203.3,1509.0 2204.4,1600.9 2205.5,1597.3 2206.6,1650.6 2207.7,1500.2 2208.8,1581.9 2209.9,1571.1 2211.0,1616.9 2212.1,1599.9 2213.3,1557.0 2214.4,1624.8 2215.5,1583.8 2216.6,1587.8 2217.7,1611.8 2218.8,1653.6 2219.9,1589.4 2221.0,1569.1 2222.1,1489.1 2223.2,1512.3 2224.3,1520.2 2225.4,1503.0 2226.6,1578.2 2227.7,1588.3 2228.8,1548.1 2229.9,1533.2 2231.0,1596.0 2232.1,1668.2 2233.2,1603.8 2234.3,1565.4 2235.4,1491.6 2236.5,1552.0 2237.6,1568.0 2238.7,1614.0 2240.0,1666.9 2241.0,1560.2 2242.1,1631.4 2243.2,1614.5 2244.3,1688.8 2245.4,1613.1 2246.5,1636.1 2247.6,1631.6 2248.7,1659.8 2250.0,1677.1 2250.9,1710.1 2252.1,1720.4 2253.2,1600.4 2254.3,1733.5 2255.4,1673.9 2256.5,1601.1 2257.6,1691.0 2258.7,1717.0 2259.8,1576.0 2260.9,1628.6 2262.0,1688.4 2263.1,1599.0 2264.2,1644.0 2265.4,1565.8 2266.5,1627.1 2267.6,1559.6 2268.7,1753.5 2269.8,1690.5 2270.9,1637.6 2272.0,1533.5 2273.1,1593.0 2274.2,1597.5 2275.3,1646.7 2276.4,1694.1 2277.5,1717.3 2278.7,1602.2 2279.8,1614.5 2280.9,1567.7 2282.0,1594.1 2283.1,1581.7 2284.2,1696.7 2285.3,1528.6 2286.4,1619.5 2287.5,1567.8 2288.6,1545.4 2289.7,1641.4 2290.8,1620.2 2292.0,1630.3 2293.1,1657.0 2294.2,1555.8 2295.3,1512.9 2296.4,1666.3 2297.5,1647.0 2298.6,1665.1 2299.7,1698.8 2300.8,1583.9 2301.9,1638.2 2303.0,1696.9 2304.2,1623.2 2305.3,1518.6 2306.4,1627.2 2307.5,1687.1 2308.6,1812.9 2309.7,1728.5 2310.8,1657.9 2311.9,1512.9 2313.0,1729.5 2314.1,1734.1 2315.2,1663.3 2316.3,1642.2 2317.5,1528.6 2318.6,1512.9 2319.7,1565.8 2320.8,1596.4 2321.9,1657.3 2323.0,1607.9 2324.1,1654.4 2325.2,1682.3 2326.3,1566.9 2327.4,1641.4 2328.5,1665.8 2329.6,1784.1 2330.8,1616.7 2331.9,1550.3 2333.0,1631.3 2334.1,1603.9 2335.2,1759.0 2336.3,1687.9 2337.4,1702.4 2338.5,1682.2 2339.6,1763.6 2340.7,1602.9 2341.8,1681.4 2342.9,1623.2 2344.1,1585.8 2345.2,1699.3 2346.3,1705.2 2347.4,1648.5 2348.5,1638.6 2349.6,1680.4 2350.7,1680.3 2351.8,1575.4 2352.9,1693.2 2354.0,1639.1 2355.1,1863.2 2356.2,1583.7 2357.4,1662.8 2358.5,1579.6 2359.6,1657.2 2360.7,1641.3 2361.8,1565.5 2362.9,1667.3 2364.0,1784.1 2365.1,1683.9 2366.2,1668.5 2367.3,1575.3 2368.4,1591.7 2369.6,1512.9 2370.7,1592.2 2371.8,1572.8 2372.9,1804.0 2374.0,1617.2 2375.1,1640.8 2376.2,1620.7 2377.3,1542.3 2378.4,1635.7 2379.5,1553.3 2380.6,1502.8 2381.7,1751.8 2382.9,1632.4 2384.0,1758.2 2385.1,1565.0 2386.2,1627.9 2387.3,1657.0 2388.4,1528.8 2389.5,1615.9 2390.6,1599.3 2391.7,1770.1 2392.8,1692.7 2393.9,1670.5 2395.0,1719.4 2396.2,1636.3 2397.3,1512.9 2398.4,1652.6 2399.5,1603.0 2400.6,1745.2 2401.7,1658.8 2402.8,1657.1 2403.9,1624.6 2405.0,1578.7 2406.1,1499.0 2407.2,1725.9 2408.3,1657.6 2409.5,1715.4 2410.6,1597.4 2411.7,1572.2 2412.8,1658.4 2413.9,1512.9 2415.3,1674.4"/>
<polyline stroke="#ff00ff" points="198.0,1011.8 199.1,1012.6 200.2,1010.9 201.3,1012.4 202.4,1013.4 203.5,1012.5 204.7,1014.6 205.8,1010.2 206.9,1012.0 208.0,1010.6 209.1,1010.5 210.2,1011.6 211.3,1012.3 212.4,1012.7 213.5,1012.9 214.6,1016.0 215.7,1013.6 216.8,1009.2 218.0,1012.4 219.1,1010.9 220.2,1011.2 221.3,1014.5 222.4,1011.7 223.5,1008.6 224.6,1012.7 225.7,1011.7 226.8,1010.1 227.9,1010.6 229.0,1011.1 230.1,1012.2 231.3,1011.5 232.4,1012.4 233.5,1015.6 234.6,1010.9 235.7,1010.9 236.8,1011.9 237.9,1014.4 239.0,1011.1 240.1,1015.0 241.2,1010.1 242.3,1010.6 243.4,1012.4 244.6,1011.0 245.7,1011.4 246.8,1013.4 247.9,1013.9 249.0,1012.8 250.1,1012.1 251.2,1015.0 252.3,1013.4 253.4,1012.2 254.5,1014.9 255.6,1011.1 256.8,1013.0 257.9,1013.9 259.0,1012.7 260.1,1011.7 261.2,1013.4 262.3,1011.8 263.4,1011.8 264.5,1011.0 265.6,1015.2 266.7,1011.9 267.8,1015.0 268.9,1013.6 270.1,1012.5 271.2,1014.2 272.3,1013.5 273.4,1013.2 274.5,1010.5 275.6,1013.2 276.7,1014.7 277.8,1014.0 278.9,1014.9 280.0,1015.8 281.1,1013.9 282.2,1016.7 283.4,1010.5 284.5,1012.8 285.6,1008.7 286.7,1014.7 287.8,1013.4 288.9,1016.3 290.0,1012.6 291.1,1009.7 292.2,1015.6 293.3,1010.9 294.4,1011.1 295.5,1013.1 296.7,1014.5 297.8,1012.5 298.9,1013.8 300.0,1010.1 301.1,1016.6 302.2,1013.4 303.3,1013.7 304.4,1014.6 305.5,1013.9 306.6,1013.9 307.7,1011.9 308.9,1013.4 310.0,1014.4 311.1,1015.5 312.2,1013.5 313.3,1013.9 314.4,1014.3 315.5,1014.8 316.6,1014.1 317.7,1013.3 318.8,1012.9 319.9,1015.8 321.0,1014.4 322.2,1013.9 323.3,1020.1 324.4,1015.5 325.5,1015.4 326.6,1014.2 327.7,1012.1 328.8,1016.0 329.9,1013.8 331.0,1014.1 332.1,1015.9 333.2,1015.9 334.3,1014.5 335.5,1014.1 336.6,1017.9 337.7,1015.2 338.8,1012.3 339.9,1015.5 341.0,1014.5 342.1,1014.3 343.2,1015.4 344.3,1014.7 345.4,1017.9 346.5,1014.6 347.6,1014.7 348.8,1016.4 349.9,1013.3 351.0,1016.2 352.1,1014.3 353.2,1016.5 354.3,1012.9 355.4,1015.2 356.5,1011.6 357.6,1013.7 358.7,1014.5 359.8,1015.4 360.9,1018.1 362.1,1017.9 363.2,1012.2 364.3,1013.2 365.4,1016.9 366.5,1015.4 367.6,1012.2 368.7,1015.5 369.8,1012.7 370.9,1013.2 372.0,1012.5 373.1,1014.3 374.3,1018.8 375.4,1015.5 376.5,1014.6 377.6,1019.3 378.7,1014.0 379.8,1014.6 380.9,1014.4 382.0,1015.6 383.1,1014.4 384.2,1017.5 385.3,1014.4 386.4,1016.0 387.6,1015.4 388.7,1013.5 389.8,1013.3 390.9,1015.0 392.0,1010.9 393.1,1015.1 394.2,1015.2 395.3,1015.4 396.4,1015.0 397.5,1015.8 398.6,1014.6 399.7,1016.4 400.9,1012.3 402.0,1016.9 403.1,1013.7 404.2,1016.2 405.3,1014.5 406.4,1014.6 407.5,1013.9 408.6,1017.8 409.7,1013.4 410.8,1013.2 411.9,1015.8 413.0,1015.9 414.2,1015.5 415.3,1013.7 416.4,1014.3 417.5,1017.1 418.6,1013.7 419.7,1016.6 420.8,1016.9 421.9,1015.8 423.0,1013.4 424.1,1019.0 425.2,1015.9 426.4,1016.0 427.5,1015.0 428.6,1014.0 429.7,1015.2 430.8,1016.1 431.9,1014.2 433.0,1016.0 434.1,1017.9 435.2,1016.6 436.3,1015.7 437.4,1017.7 438.5,1017.5 439.7,1017.5 440.8,1014.5 441.9,1012.7 443.0,1017.4 444.1,1016.1 445.2,1015.3 446.3,1016.9 447.4,1015.2 448.5,1014.9 449.6,1019.3 450.7,1013.2 451.8,1017.6 453.0,1017.9 454.1,1019.3 455.2,1016.6 456.3,1017.1 457.4,1014.6 458.5,1016.3 459.6,1012.5 460.7,1015.2 461.8,1016.2 462.9,1016.1 464.0,1015.5 465.1,1018.4 466.3,1013.5 467.4,1016.6 468.5,1015.7 469.6,1016.5 470.7,1016.5 471.8,1019.9 472.9,1014.6 474.0,1018.9 475.1,1019.0 476.2,1016.3 477.3,1015.4 478.5,1014.4 479.6,1015.0 480.7,1020.3 481.8,1012.7 482.9,1017.5 484.0,1015.4 485.1,1020.1 486.2,1017.3 487.3,1014.3 488.4,1015.8 489.5,1017.1 490.6,1017.0 491.8,1015.1 492.9,1016.3 494.0,1016.0 495.1,1017.7 496.2,1017.4 497.3,1017.3 498.4,1015.9 499.5,1018.3 500.6,1015.9 501.7,1015.5 502.8,1016.2 503.9,1016.4 505.1,1016.5 506.2,1013.6 507.3,1019.5 508.4,1018.2 509.5,1019.5 510.6,1016.4 511.7,1018.5 512.8,1017.5 513.9,1017.2 515.0,1020.4 516.1,1016.2 517.2,1018.3 518.4,1014.2 519.5,1018.3 520.6,1017.0 521.7,1015.5 522.8,1016.3 523.9,1013.6 525.0,1015.5 526.1,1017.7 527.2,1012.7 528.3,1019.4 529.4,1019.2 530.5,1016.1 531.7,1014.8 532.8,1015.0 533.9,1015.2 535.0,1016.2 536.1,1021.5 537.2,1015.6 538.3,1019.0 539.4,1019.9 540.5,1015.9 541.6,1017.2 542.7,1018.9 543.9,1016.5 545.0,1020.0 546.1,1021.6 547.2,1017.7 548.3,1016.3 549.4,1018.9 550.5,1018.4 551.6,1016.5 552.7,1017.6 553.8,1018.0 554.9,1018.8 556.0,1020.0 557.2,1017.1 558.3,1015.6 559.4,1015.1 560.5,1021.3 561.6,1017.3 562.7,1017.3 563.8,1022.5 564.9,1020.1 566.0,1022.1 567.1,1017.8 568.2,1016.9 569.3,1017.2 570.5,1019.3 571.6,1018.9 572.7,1018.9 573.8,1022.3 574.9,1020.7 576.0,1016.3 577.1,1019.1 578.2,1019.4 579.3,1017.0 580.4,1022.5 581.5,1020.0 582.6,1021.1 583.8,1017.4 584.9,1016.4 586.0,1019.8 587.1,1018.1 588.2,1017.4 589.3,1018.3 590.0,1018.9 591.5,1018.8 592.6,1018.2 593.7,1019.4 594.8,1023.8 596.0,1020.7 597.1,1017.7 598.2,1022.3 599.3,1017.8 600.4,1015.9 601.5,1016.2 602.6,1015.0 603.7,1020.8 604.8,1016.8 605.9,1016.2 607.0,1017.8 608.1,1018.4 609.3,1016.6 610.4,1017.8 611.5,1018.8 612.6,1020.0 613.7,1017.2 614.8,1019.9 615.9,1019.4 617.0,1019.9 618.1,1018.0 619.2,1016.9 620.3,1020.7 621.4,1020.1 622.6,1017.8 623.7,1017.6 624.8,1020.3 625.9,1022.7 627.0,1019.8 628.1,1023.7 629.2,1019.7 630.3,1019.8 631.4,1020.1 632.5,1021.2 633.6,1016.5 634.7,1019.5 635.9,1021.5 637.0,1016.5 638.1,1019.7 639.2,1020.7 640.3,1022.4 641.4,1022.2 642.5,1019.3 643.6,1023.1 644.7,1017.4 645.8,1016.9 646.9,1021.9 648.1,1020.7 649.2,1017.4 650.3,1021.5 651.4,1021.1 652.5,1020.9 653.6,1018.8 654.7,1017.3 655.8,1016.5 656.9,1019.2 658.0,1019.4 659.1,1018.7 660.2,1018.7 661.4,1021.4 662.5,1017.7 663.6,1018.4 664.7,1023.3 665.8,1018.6 666.9,1018.6 668.0,1021.7 669.1,1016.6 670.2,1022.8 671.3,1017.5 672.4,1018.4 673.5,1017.6 674.7,1018.2 675.8,1018.6 676.9,1021.6 678.0,1019.8 679.1,1022.5 680.2,1021.4 681.3,1017.8 682.4,1020.1 683.5,1019.0 684.6,1019.3 685.7,1020.3 686.8,1020.8 688.0,1020.9 689.1,1016.3 690.2,1019.9 691.3,1019.4 692.4,1023.6 693.5,1019.8 694.6,1020.2 695.7,1020.3 696.8,1021.7 697.9,1018.2 699.0,1020.1 700.2,1020.1 701.3,1020.3 702.4,1019.9 703.5,1019.4 704.6,1020.6 705.7,1018.0 706.8,1023.4 707.9,1020.5 709.0,1017.2 710.1,1020.0 711.2,1022.2 712.3,1020.2 713.5,1020.3 714.6,1016.4 715.7,1023.2 716.8,1020.7 717.9,1017.1 719.0,1019.8 720.1,1023.3 721.2,1021.4 722.3,1018.0 723.4,1019.7 724.5,1021.2 725.6,1024.5 726.8,1021.2 727.9,1022.1 729.0,1020.2 730.1,1020.9 731.2,1019.0 732.3,1018.5 733.4,1018.4 734.5,1019.8 735.6,1023.2 736.7,1020.9 737.8,1023.1 738.9,1022.4 740.1,1021.3 741.2,1020.1 742.3,1024.9 743.4,1023.1 744.5,1023.3 745.6,1025.6 746.7,1023.9 747.8,1021.6 748.9,1021.9 750.0,1022.2 751.1,1025.3 752.2,1019.4 753.4,1017.9 754.5,1020.4 755.6,1021.3 756.7,1020.2 757.8,1023.0 758.9,1022.4 760.0,1021.3 761.1,1021.5 762.2,1024.9 763.3,1025.0 764.4,1024.6 765.6,1020.8 766.7,1023.7 767.8,1019.4 768.9,1018.2 770.0,1024.6 771.1,1023.1 772.2,1022.8 773.3,1024.2 774.4,1024.6 775.5,1022.1 776.6,1022.2 777.7,1022.8 778.9,1023.2 780.0,1022.0 781.1,1019.3 782.2,1026.3 783.3,1020.4 784.4,1020.7 785.5,1022.9 786.6,1021.7 787.7,1022.8 788.8,1026.2 789.9,1024.5 791.0,1021.1 792.2,1022.5 793.3,1021.8 794.4,1024.2 795.5,1020.4 796.6,1020.3 797.7,1019.0 798.8,1023.0 799.9,1022.8 801.0,1023.4 802.1,1023.6 803.2,1019.9 804.3,1021.5 805.5,1020.2 806.6,1024.4 807.7,1023.8 808.8,1019.6 809.9,1023.2 811.0,1022.5 812.1,1022.5 813.2,1023.6 814.3,1021.2 815.4,1021.8 816.5,1021.1 817.7,1021.2 818.8,1020.5 819.9,1024.5 821.0,1023.5 822.1,1022.0 823.2,1019.5 824.3,1026.6 825.4,1022.6 826.5,1022.9 827.6,1023.7 828.7,1025.7 829.8,1022.0 831.0,1018.3 832.1,1022.1 833.2,1022.6 834.3,1021.6 835.4,1025.3 836.5,1021.9 837.6,1023.3 838.7,1021.3 839.8,1024.1 840.9,1021.5 842.0,1024.3 843.1,1023.0 844.3,1023.1 845.4,1023.4 846.5,1020.0 847.6,1022.1 848.7,1023.3 849.8,1022.2 850.9,1025.1 852.0,1024.5 853.1,1021.7 854.2,1025.1 855.3,1022.6 856.4,1024.0 857.6,1025.3 858.7,1021.1 859.8,1021.6 860.9,1023.0 862.0,1022.7 863.1,1020.1 864.2,1024.4 865.3,1023.5 866.4,1023.6 867.5,1023.8 868.6,1024.5 869.8,1021.8 870.9,1023.8 872.0,1022.5 873.1,1022.4 874.2,1021.8 875.3,1025.5 876.4,1019.0 877.5,1022.1 878.6,1024.6 879.7,1022.8 880.8,1022.3 881.9,1025.3 883.1,1021.8 884.2,1023.0 885.3,1024.2 886.4,1022.6 887.5,1022.6 888.6,1023.7 889.7,1025.3 890.8,1021.9 891.9,1024.6 893.0,1023.5 894.1,1023.0 895.2,1021.3 896.4,1026.8 897.5,1024.7 898.6,1024.2 899.7,1023.2 900.8,1026.7 901.9,1022.6 903.0,1022.0 904.1,1022.4 905.2,1023.8 906.3,1024.4 907.4,1020.3 908.5,1024.4 909.7,1024.4 910.8,1025.9 911.9,1023.4 913.0,1026.6 914.1,1027.6 915.2,1023.0 916.3,1023.6 917.4,1025.8 918.5,1026.2 919.6,1024.1 920.7,1026.2 921.9,1021.3 923.0,1025.8 924.1,1025.0 925.2,1025.8 926.3,1025.1 927.4,1025.4 928.5,1023.4 929.6,1026.8 930.7,1020.5 931.8,1024.8 932.9,1023.2 934.0,1027.8 935.2,1022.3 936.3,1024.6 937.4,1024.3 938.5,1025.9 939.6,1024.4 940.6,1022.5 941.8,1024.2 942.9,1026.5 944.0,1025.7 945.1,1023.1 946.2,1022.1 947.3,1022.0 948.5,1024.1 949.6,1024.0 950.7,1023.6 951.8,1023.3 952.9,1024.5 954.0,1026.6 955.1,1026.0 956.2,1023.4 957.3,1025.6 958.4,1023.7 959.5,1026.4 960.6,1025.9 962.0,1025.7 962.9,1026.4 964.0,1022.2 965.1,1019.9 966.2,1018.7 967.3,1012.3 968.0,1012.3 969.5,1012.2 970.6,1014.4 971.7,1012.9 972.8,1010.6 974.0,1011.5 975.1,1012.5 976.2,1012.0 977.3,1012.0 978.4,1010.2 979.5,1013.1 980.6,1010.5 981.7,1012.1 982.8,1011.7 983.9,1012.3 985.0,1015.4 986.1,1012.1 987.3,1012.1 988.4,1008.4 989.5,1011.3 990.6,1013.3 991.7,1012.3 992.8,1014.3 993.9,1012.3 995.0,1014.3 996.1,1013.3 997.2,1014.8 998.3,1012.3 999.4,1014.5 1000.0,1012.0 1000.6,1012.0 1001.7,1016.6 1002.8,1013.2 1003.9,1015.1 1005.0,1020.9 1006.1,1019.3 1007.6,1021.2 1008.3,1020.8 1009.4,1020.1 1010.5,1023.5 1011.6,1019.8 1012.7,1022.1 1013.9,1019.3 1015.0,1017.8 1016.1,1017.4 1017.2,1016.8 1018.3,1020.1 1019.4,1013.2 1020.5,1013.8 1021.6,1009.1 1023.1,1011.3 1023.8,1010.7 1024.9,1012.8 1026.0,1013.4 1027.2,1013.5 1028.3,1015.5 1029.4,1016.5 1030.5,1019.5 1031.6,1018.6 1032.7,1019.6 1033.4,1018.2 1034.9,1020.4 1036.0,1017.3 1037.1,1014.7 1038.2,1017.2 1039.4,1015.4 1040.0,1013.0 1041.6,1013.3 1042.7,1011.0 1043.8,1009.2 1044.9,1013.8 1046.0,1011.0 1047.1,1015.0 1048.2,1013.3 1049.3,1014.6 1050.4,1013.3 1051.5,1015.1 1052.7,1015.9 1053.8,1014.8 1054.9,1016.1 1056.0,1016.3 1057.1,1014.7 1058.2,1012.1 1059.3,1016.4 1060.0,1014.2 1061.5,1013.8 1062.6,1012.6 1063.7,1013.1 1064.8,1018.9 1066.0,1020.0 1067.1,1019.5 1068.2,1021.0 1069.3,1014.2 1070.4,1019.2 1071.5,1015.7 1072.6,1015.8 1073.7,1019.8 1075.0,1020.7 1075.9,1016.9 1077.0,1014.9 1078.1,1014.5 1079.3,1016.3 1080.4,1017.7 1081.5,1019.1 1082.6,1015.7 1083.7,1012.4 1084.8,1011.7 1086.0,1013.1 1087.0,1014.8 1088.1,1010.7 1089.2,1015.5 1090.3,1014.5 1091.5,1017.8 1092.6,1014.0 1093.7,1019.4 1094.8,1021.0 1095.9,1021.6 1097.0,1022.5 1098.1,1020.6 1099.2,1021.3 1100.3,1019.8 1101.8,1022.6 1102.5,1021.2 1103.6,1023.8 1104.8,1024.0 1105.9,1022.4 1107.0,1025.5 1108.1,1020.3 1109.2,1021.7 1110.3,1025.8 1111.4,1022.2 1112.5,1023.9 1113.6,1018.1 1114.7,1025.4 1115.8,1021.4 1116.9,1021.5 1118.1,1024.5 1119.2,1022.8 1120.3,1019.5 1121.5,1025.1 1122.5,1019.2 1123.6,1018.3 1124.7,1015.8 1125.8,1014.2 1127.0,1012.1 1128.0,1012.2 1129.1,1012.0 1130.2,1017.3 1131.4,1013.4 1132.5,1013.9 1133.6,1011.7 1134.7,1016.0 1135.8,1013.7 1136.9,1012.9 1138.0,1011.8 1139.1,1014.2 1140.2,1009.6 1141.3,1011.5 1142.4,1012.1 1143.6,1013.3 1144.7,1013.0 1145.8,1010.0 1146.9,1013.7 1148.0,1011.9 1149.1,1011.7 1150.2,1012.9 1151.3,1012.0 1152.4,1011.8 1153.5,1011.9 1154.6,1013.8 1155.7,1012.7 1156.9,1013.0 1158.0,1011.4 1159.1,1014.6 1160.2,1012.8 1161.3,1011.2 1162.4,1014.5 1163.5,1010.0 1164.6,1011.2 1165.7,1013.9 1166.8,1011.7 1167.9,1011.9 1169.0,1011.8 1170.2,1012.5 1171.3,1013.3 1172.4,1013.5 1173.5,1011.2 1174.6,1011.5 1175.7,1008.9 1176.8,1011.5 1177.9,1013.2 1179.0,1012.4 1180.1,1014.5 1181.2,1011.9 1182.3,1012.8 1183.5,1013.9 1184.6,1010.3 1185.7,1014.7 1186.8,1009.8 1187.9,1011.8 1189.0,1009.0 1190.1,1011.7 1191.2,1010.5 1192.3,1013.9 1193.4,1008.6 1194.5,1013.0 1195.7,1012.9 1196.8,1013.2 1197.9,1013.9 1199.0,1013.6 1200.1,1010.5 1201.2,1013.2 1202.3,1010.8 1203.4,1010.9 1204.5,1011.6 1205.6,1011.2 1206.7,1011.0 1207.8,1013.9 1209.0,1012.2 1210.1,1008.7 1211.2,1010.6 1212.3,1011.1 1213.4,1016.1 1214.5,1012.4 1215.6,1011.1 1216.7,1012.8 1217.8,1007.9 1218.9,1014.7 1220.0,1011.3 1221.1,1010.2 1222.3,1013.4 1223.4,1010.5 1224.5,1009.9 1225.6,1013.3 1226.7,1015.4 1227.8,1011.2 1228.9,1011.7 1230.0,1011.6 1231.1,1012.6 1232.2,1011.1 1233.3,1012.1 1234.4,1010.4 1235.6,1011.6 1236.7,1013.3 1237.8,1009.1 1238.9,1013.1 1240.0,1014.8 1241.1,1010.6 1242.2,1011.1 1243.3,1012.0 1244.4,1011.7 1245.5,1009.8 1246.6,1013.2 1247.7,1012.9 1248.9,1013.6 1250.0,1013.0 1251.1,1010.7 1252.2,1011.5 1253.3,1010.6 1254.4,1016.4 1255.5,1011.0 1256.6,1013.3 1257.7,1014.4 1258.8,1011.5 1259.9,1012.1 1261.1,1012.5 1262.2,1014.6 1263.3,1009.6 1264.4,1012.2 1265.5,1012.5 1266.6,1012.5 1267.7,1010.3 1268.8,1013.3 1269.9,1012.6 1271.0,1009.9 1272.1,1009.8 1273.2,1015.2 1274.4,1010.6 1275.5,1008.9 1276.6,1012.4 1277.7,1009.8 1278.8,1011.6 1279.9,1012.6 1281.0,1010.1 1282.1,1009.2 1283.2,1015.0 1284.3,1009.4 1285.4,1009.6 1286.5,1011.6 1287.7,1012.4 1288.8,1011.5 1289.9,1010.1 1291.0,1013.3 1292.1,1009.7 1293.2,1010.2 1294.3,1012.8 1295.4,1013.5 1296.5,1012.5 1297.6,1013.2 1298.7,1012.3 1299.8,1013.1 1301.0,1010.4 1302.1,1010.3 1303.2,1012.6 1304.3,1013.4 1305.4,1010.9 1306.5,1010.3 1307.6,1011.4 1308.7,1013.5 1309.8,1011.5 1310.9,1011.2 1312.0,1011.3 1313.2,1011.1 1314.3,1012.5 1315.4,1010.9 1316.5,1011.8 1317.6,1011.2 1318.7,1010.2 1319.8,1011.7 1320.6,1012.1 1322.0,1007.0 1323.1,1009.3 1324.0,1008.4 1325.3,1005.8 1326.5,1002.6 1327.6,1001.7 1328.7,1002.5 1329.8,998.1 1330.7,1000.2 1332.0,989.5 1333.1,983.8 1334.6,968.5 1335.3,973.2 1336.4,970.0 1337.5,964.4 1338.6,966.6 1339.8,961.5 1340.9,957.8 1342.0,959.8 1343.1,954.1 1344.2,947.5 1345.3,940.3 1346.6,933.6 1347.5,926.8 1348.6,922.1 1349.7,917.4 1351.3,908.6 1351.9,903.5 1353.1,895.1 1354.2,886.9 1355.1,879.8 1356.4,860.2 1357.2,845.6 1358.9,782.7 1359.7,762.0 1361.2,722.9 1361.9,720.6 1363.0,714.2 1364.1,707.5 1365.3,701.5 1366.3,695.3 1367.5,705.4 1368.6,713.4 1369.7,722.7 1370.8,733.3 1371.5,740.6 1372.4,764.3 1373.3,830.6 1374.1,855.4 1375.2,888.4 1376.3,891.4 1377.4,896.7 1378.5,899.8 1379.7,901.8 1380.8,902.3 1381.9,903.3 1383.3,905.4 1384.1,904.0 1385.2,901.1 1386.3,898.0 1387.4,896.5 1389.0,893.7 1389.6,890.6 1390.7,886.0 1391.9,880.5 1393.0,874.2 1394.1,870.7 1394.9,865.9 1396.3,860.1 1397.4,855.2 1398.5,849.6 1399.2,846.1 1400.7,845.1 1401.8,843.2 1402.9,841.6 1404.0,837.8 1405.2,836.2 1406.3,833.8 1407.4,832.6 1407.9,830.6 1408.5,828.9 1409.6,825.4 1410.7,823.2 1411.8,821.0 1412.9,816.4 1414.0,813.8 1415.1,812.0 1416.2,807.4 1417.4,803.5 1418.5,801.2 1419.7,799.0 1420.7,795.3 1421.8,791.1 1422.9,787.8 1424.0,785.6 1425.1,780.2 1426.2,778.6 1427.3,773.8 1428.4,771.0 1430.0,764.9 1430.7,761.5 1431.8,757.8 1432.9,750.1 1434.0,743.5 1435.1,738.6 1436.1,732.3 1437.3,724.8 1438.4,718.2 1439.5,711.7 1440.6,706.2 1441.5,698.9 1443.3,669.0 1444.0,642.7 1445.0,604.4 1446.2,581.3 1447.5,556.6 1448.4,533.3 1449.7,500.7 1450.5,440.5 1451.7,416.0 1452.5,400.5 1454.2,364.4 1455.0,348.6 1456.1,327.4 1457.2,308.4 1458.4,305.3 1459.5,302.1 1460.6,298.6 1461.6,296.8 1462.8,251.3 1463.9,209.2 1465.0,165.8 1466.0,129.1 1467.2,114.3 1468.3,102.8 1469.4,90.3 1470.0,85.2 1470.6,82.3 1471.7,78.2 1472.8,75.3 1474.0,70.7 1475.0,76.3 1476.1,86.5 1477.2,94.7 1478.0,100.6 1479.4,171.0 1481.0,250.9 1481.6,284.4 1482.8,341.5 1483.9,399.5 1484.6,439.3 1486.3,556.5 1487.2,566.5 1488.3,573.3 1489.4,584.6 1490.5,594.3 1491.6,604.1 1492.7,617.0 1493.8,629.6 1494.9,641.2 1496.1,654.7 1497.5,670.1 1498.3,673.7 1499.4,678.4 1500.5,681.7 1501.6,688.2 1502.7,691.2 1503.8,696.7 1504.6,699.8 1506.0,706.0 1507.1,711.7 1508.2,715.9 1509.4,722.5 1510.5,727.2 1511.6,731.9 1512.7,737.6 1513.8,742.9 1515.2,749.1 1516.0,751.3 1517.1,757.5 1518.2,762.0 1519.3,767.8 1520.4,772.7 1521.5,776.5 1522.7,780.7 1523.8,785.2 1524.9,789.2 1526.0,793.9 1527.0,797.8 1528.2,800.8 1529.3,803.3 1530.4,807.5 1531.5,810.4 1532.6,809.9 1533.7,814.5 1534.9,815.7 1536.0,818.9 1537.1,822.4 1538.2,825.0 1539.3,830.0 1540.4,830.5 1541.5,832.5 1542.6,834.7 1543.7,838.8 1544.8,840.5 1545.9,843.5 1547.5,846.5 1548.2,849.8 1549.3,851.8 1550.4,854.8 1551.5,856.1 1552.6,859.0 1553.7,861.2 1554.8,863.3 1555.9,866.9 1557.0,867.7 1558.1,871.0 1559.2,873.1 1560.3,876.5 1561.5,878.0 1562.6,881.4 1563.7,883.4 1564.8,886.2 1565.9,888.7 1567.0,892.9 1568.1,893.3 1569.3,897.6 1570.3,898.2 1571.4,902.5 1572.5,902.5 1573.6,905.0 1574.8,905.2 1575.9,909.1 1577.0,910.0 1578.1,911.4 1579.2,913.9 1580.3,916.9 1581.4,917.3 1582.5,919.8 1583.6,922.4 1584.7,924.2 1585.8,924.7 1587.0,926.3 1588.2,930.2 1589.2,931.3 1590.3,933.2 1591.4,935.0 1592.5,936.1 1593.6,938.2 1594.7,939.0 1595.8,940.7 1596.9,943.0 1598.0,943.4 1599.1,945.8 1600.0,950.4 1601.4,948.6 1602.5,951.3 1603.6,951.3 1604.7,949.6 1605.8,954.3 1606.9,950.7 1608.0,955.8 1609.1,956.0 1610.0,955.5 1611.3,959.4 1612.4,958.2 1613.6,963.5 1614.7,957.7 1615.8,964.4 1616.9,964.6 1618.0,964.6 1619.1,962.5 1620.2,963.4 1621.1,962.6 1622.4,967.3 1623.5,966.9 1624.6,969.4 1625.7,968.7 1626.9,969.8 1628.0,966.2 1629.1,969.8 1630.2,970.8 1631.3,972.4 1632.4,966.2 1633.5,973.5 1634.6,968.5 1635.7,972.4 1636.8,973.1 1637.9,976.9 1639.0,974.6 1640.2,974.2 1641.3,973.0 1642.1,973.1 1643.5,972.7 1644.6,975.1 1645.7,974.3 1646.8,978.4 1647.9,974.6 1649.0,978.3 1650.1,976.9 1651.2,976.0 1652.4,978.1 1653.5,974.8 1654.6,979.2 1655.7,978.8 1656.8,978.2 1657.9,980.0 1659.0,980.8 1660.1,981.9 1661.2,980.7 1662.3,979.9 1663.2,982.1 1664.5,977.8 1665.7,984.2 1666.8,980.7 1667.9,982.1 1669.0,984.2 1670.1,980.2 1671.2,980.9 1672.3,982.0 1673.4,980.1 1674.5,983.7 1675.6,978.6 1676.7,981.1 1677.8,982.5 1679.0,982.4 1680.0,981.0 1681.2,983.6 1682.3,982.5 1683.4,979.1 1684.5,979.4 1685.6,974.8 1686.7,977.8 1687.8,975.6 1688.9,975.5 1690.0,974.3 1691.1,972.7 1691.7,971.5 1692.3,969.6 1693.4,970.1 1694.5,972.1 1695.6,976.9 1696.7,976.9 1697.8,976.6 1698.9,977.5 1700.0,981.2 1701.1,980.8 1702.2,985.0 1703.3,982.5 1704.5,982.5 1705.4,981.5 1706.7,984.2 1707.8,986.7 1708.9,983.7 1710.0,987.8 1711.1,988.1 1712.2,985.1 1713.3,988.4 1714.4,985.5 1715.5,988.6 1716.6,987.8 1717.8,990.1 1718.9,987.5 1720.0,989.3 1721.1,990.9 1722.2,989.4 1723.3,990.0 1724.4,989.6 1725.5,993.2 1726.4,992.0 1727.7,993.1 1728.8,993.5 1729.9,992.9 1731.1,992.9 1732.2,991.3 1733.3,992.5 1734.4,993.7 1735.5,990.6 1736.6,991.2 1737.7,994.5 1738.8,996.4 1739.9,994.4 1741.0,993.7 1742.1,996.4 1743.2,995.7 1744.4,996.6 1745.5,995.7 1746.6,994.8 1747.7,996.0 1748.8,997.3 1749.9,996.8 1751.0,992.1 1752.1,998.1 1753.2,994.5 1754.3,993.2 1755.4,993.3 1756.6,996.3 1758.0,991.7 1758.8,993.7 1759.9,996.4 1761.0,997.4 1762.1,999.2 1763.2,996.6 1764.3,995.4 1765.4,995.5 1766.5,998.4 1767.6,997.4 1768.7,997.9 1769.9,996.3 1771.0,996.1 1772.1,996.7 1773.2,998.4 1774.3,998.8 1775.4,1001.0 1776.5,999.7 1777.6,998.9 1778.7,1001.1 1779.8,996.4 1780.9,997.8 1782.0,1000.4 1783.2,1001.2 1784.3,999.8 1785.4,997.2 1786.5,997.5 1787.6,1000.6 1788.7,1001.2 1789.8,996.9 1790.9,999.9 1792.0,1000.7 1793.1,1002.8 1794.2,1003.1 1795.3,1000.5 1796.5,999.7 1797.6,1001.2 1798.7,1000.6 1800.0,1000.6 1800.9,1003.2 1802.0,1002.2 1803.1,997.7 1804.2,1002.4 1805.3,1003.5 1806.4,1000.4 1807.5,1005.7 1808.7,1003.8 1809.8,1003.3 1810.9,1002.4 1812.0,1005.4 1813.1,1005.6 1814.2,1002.5 1815.3,999.7 1816.4,1006.3 1817.5,1003.9 1818.6,1000.7 1819.7,1006.5 1820.8,1000.0 1822.0,1003.7 1823.1,1002.2 1824.2,1002.5 1825.3,1005.3 1826.4,1009.6 1827.5,1004.0 1828.6,1008.0 1829.7,1004.4 1830.8,1004.3 1831.9,1006.4 1833.0,1003.0 1834.1,1009.4 1835.3,1005.1 1836.4,1004.1 1837.5,1006.6 1838.6,1006.4 1839.7,1005.7 1840.8,1008.0 1841.9,1010.3 1843.0,1007.2 1844.1,1006.5 1845.2,1009.7 1846.3,1009.9 1847.4,1007.0 1848.6,1008.0 1849.7,1007.0 1850.8,1006.0 1851.9,1010.3 1853.0,1009.9 1854.1,1011.8 1855.2,1012.6 1856.1,1004.6 1857.4,1007.3 1858.5,1009.5 1859.6,1013.3 1860.8,1010.2 1861.9,1012.0 1863.0,1009.1 1864.1,1013.2 1865.2,1013.6 1866.3,1013.6 1867.4,1013.1 1868.5,1010.8 1869.6,1015.0 1870.7,1010.7 1871.8,1010.6 1872.9,1010.9 1874.1,1012.8 1875.2,1015.1 1876.3,1013.0 1877.4,1014.1 1878.5,1013.2 1879.6,1014.7 1880.7,1014.0 1881.8,1011.8 1882.9,1018.9 1884.0,1015.9 1885.1,1016.1 1886.2,1015.7 1887.6,1013.8 1888.5,1014.9 1889.6,1016.8 1890.7,1018.2 1891.8,1017.0 1892.9,1015.4 1894.0,1016.4 1895.1,1015.3 1896.2,1016.8 1897.3,1017.4 1898.4,1017.0 1899.5,1019.1 1900.7,1022.5 1901.8,1018.1 1902.9,1016.8 1904.0,1018.6 1905.1,1022.2 1906.2,1018.6 1907.3,1022.8 1908.4,1023.2 1909.5,1021.0 1910.6,1019.2 1911.7,1023.0 1912.8,1020.8 1914.4,1023.0 1915.1,1026.5 1916.2,1023.9 1917.3,1020.3 1918.4,1023.8 1919.5,1022.2 1920.6,1027.7 1921.7,1025.3 1922.8,1023.9 1923.9,1025.5 1925.0,1025.2 1926.2,1024.1 1927.3,1023.8 1928.4,1026.3 1929.5,1025.4 1930.6,1026.5 1931.7,1028.3 1932.8,1029.6 1933.9,1026.5 1935.0,1028.7 1936.1,1026.5 1937.2,1024.9 1938.3,1030.9 1939.5,1032.1 1940.6,1028.5 1941.8,1027.8 1942.8,1027.1 1943.9,1029.6 1945.0,1031.9 1946.1,1031.2 1947.2,1028.1 1948.3,1031.2 1949.4,1028.2 1950.5,1030.5 1951.6,1031.9 1952.8,1032.1 1953.9,1028.1 1955.0,1030.3 1956.1,1031.7 1957.2,1032.8 1958.3,1031.4 1959.4,1033.3 1960.5,1034.8 1961.6,1029.8 1962.7,1033.3 1963.8,1037.3 1964.9,1033.6 1966.1,1033.0 1967.2,1035.6 1968.3,1035.4 1969.4,1034.2 1970.5,1029.7 1971.6,1034.0 1972.7,1034.7 1973.8,1035.4 1974.9,1037.2 1976.0,1031.5 1977.1,1032.4 1978.3,1034.7 1979.4,1036.2 1980.5,1033.4 1981.6,1032.9 1982.7,1035.4 1983.8,1034.9 1984.9,1036.3 1986.0,1034.5 1987.1,1035.5 1988.2,1032.0 1989.3,1035.8 1990.4,1035.7 1991.6,1034.4 1992.7,1032.8 1993.8,1037.9 1994.9,1036.7 1996.0,1034.8 1997.1,1036.8 1998.2,1038.4 1999.3,1034.6 2000.4,1037.9 2001.5,1036.7 2002.6,1034.9 2003.7,1034.9 2004.9,1037.8 2006.0,1037.5 2007.1,1036.7 2008.2,1034.0 2009.3,1034.8 2010.4,1035.6 2011.5,1033.1 2012.6,1033.0 2013.7,1034.3 2014.8,1036.6 2015.9,1036.8 2017.0,1035.8 2018.2,1037.1 2019.3,1038.9 2020.4,1034.0 2021.5,1037.6 2022.6,1035.1 2023.7,1038.7 2024.8,1032.9 2025.9,1036.7 2027.0,1032.9 2028.1,1036.3 2029.2,1036.2 2030.4,1035.8 2031.5,1037.7 2032.6,1034.3 2033.7,1036.1 2034.8,1037.8 2035.9,1036.0 2037.0,1037.7 2038.1,1036.6 2039.2,1037.1 2040.3,1035.3 2041.4,1034.5 2042.5,1035.9 2043.7,1039.2 2044.8,1037.7 2045.9,1036.2 2047.0,1035.9 2048.1,1039.1 2049.2,1038.5 2050.3,1037.1 2051.4,1038.3 2052.5,1037.4 2053.6,1039.6 2054.6,1035.6 2055.8,1037.6 2057.0,1038.2 2058.1,1038.1 2059.2,1035.8 2060.3,1036.0 2061.4,1038.5 2062.5,1040.2 2063.6,1035.6 2064.7,1036.6 2065.8,1039.3 2066.9,1036.7 2068.0,1038.3 2069.1,1038.7 2070.3,1036.7 2071.4,1040.5 2072.5,1037.1 2073.6,1036.3 2074.7,1038.7 2075.8,1039.0 2076.9,1035.4 2078.0,1036.9 2079.1,1035.9 2080.2,1036.9 2081.3,1034.6 2082.4,1037.3 2083.6,1039.1 2084.7,1035.8 2085.8,1036.3 2086.9,1036.5 2088.0,1034.4 2089.1,1036.7 2090.2,1035.9 2091.3,1035.3 2092.4,1039.3 2093.5,1035.7 2094.6,1035.8 2095.8,1031.7 2096.9,1037.5 2098.0,1036.3 2099.1,1038.3 2100.2,1035.2 2101.3,1036.2 2102.4,1036.3 2103.5,1039.4 2104.6,1037.8 2105.7,1033.0 2106.8,1040.3 2107.9,1038.5 2109.1,1035.6 2110.2,1034.3 2111.3,1035.1 2112.4,1033.1 2113.5,1035.5 2114.6,1037.9 2115.7,1036.1 2116.8,1034.7 2117.9,1037.1 2119.0,1037.1 2120.1,1036.7 2121.2,1037.4 2122.4,1038.9 2123.5,1037.2 2124.6,1038.3 2125.7,1037.9 2126.8,1035.8 2127.9,1037.4 2129.0,1036.0 2130.1,1035.4 2131.2,1036.8 2131.9,1037.0 2133.4,1037.7 2134.5,1036.8 2135.7,1033.9 2136.8,1036.8 2137.9,1037.4 2139.0,1038.4 2140.1,1037.8 2141.2,1037.2 2142.3,1037.4 2143.4,1039.6 2144.5,1039.3 2145.6,1037.9 2146.7,1038.5 2147.9,1038.4 2149.0,1037.6 2150.1,1038.4 2151.2,1038.0 2152.3,1040.0 2153.4,1037.3 2154.5,1038.3 2155.6,1040.2 2156.7,1040.1 2157.6,1037.7 2158.9,1037.9 2160.0,1038.8 2161.2,1040.1 2162.3,1040.8 2163.4,1039.3 2164.5,1042.4 2165.6,1040.8 2166.7,1036.6 2167.8,1038.9 2168.9,1041.0 2170.0,1041.3 2171.1,1038.7 2172.2,1038.9 2173.3,1039.1 2174.5,1039.7 2175.6,1037.5 2176.7,1039.8 2177.8,1041.4 2178.9,1039.9 2180.0,1041.0 2181.1,1038.2 2182.2,1040.9 2183.3,1038.8 2184.4,1040.3 2185.5,1040.5 2186.6,1037.5 2187.8,1037.6 2188.9,1041.2 2190.0,1040.6 2191.1,1040.3 2192.2,1038.1 2193.3,1041.0 2194.4,1040.7 2195.5,1037.9 2196.6,1037.4 2197.7,1040.7 2198.8,1039.6 2200.0,1037.8 2201.1,1038.7 2202.2,1037.9 2203.3,1040.1 2204.4,1039.5 2205.5,1041.1 2206.6,1040.0 2207.7,1039.8 2208.8,1041.7 2209.9,1039.2 2211.0,1037.4 2212.1,1039.2 2213.3,1037.9 2214.4,1040.7 2215.5,1042.5 2216.6,1038.2 2217.7,1039.0 2218.8,1037.0 2219.9,1042.3 2221.0,1042.7 2222.1,1040.7 2223.2,1042.2 2224.3,1041.8 2225.4,1038.5 2226.6,1039.2 2227.7,1039.1 2228.8,1041.2 2229.9,1036.9 2231.0,1037.5 2232.1,1040.1 2233.2,1038.3 2234.3,1036.7 2235.4,1037.9 2236.5,1040.6 2237.6,1042.5 2238.7,1039.5 2239.9,1041.8 2241.0,1037.2 2242.1,1039.4 2243.2,1040.0 2244.3,1038.6 2245.4,1039.1 2246.5,1044.0 2247.6,1036.7 2248.7,1036.6 2249.8,1039.6 2250.9,1041.0 2252.1,1036.7 2253.2,1037.8 2254.3,1038.7 2255.4,1039.4 2256.5,1036.5 2257.6,1040.5 2258.7,1040.0 2259.8,1038.9 2260.9,1036.3 2262.0,1041.9 2263.1,1039.2 2264.2,1036.9 2265.4,1040.5 2266.5,1041.2 2267.6,1037.5 2268.7,1040.4 2269.8,1038.6 2270.9,1039.4 2272.0,1040.1 2273.1,1037.6 2274.2,1040.3 2275.3,1041.7 2276.4,1039.0 2277.5,1040.2 2278.7,1039.1 2279.8,1039.2 2280.9,1041.4 2282.0,1038.2 2283.1,1039.0 2284.2,1043.6 2285.3,1039.1 2286.4,1039.3 2287.5,1039.3 2288.6,1038.8 2289.7,1039.0 2290.8,1041.7 2292.0,1037.0 2293.1,1035.7 2294.2,1039.9 2295.3,1038.4 2296.4,1038.6 2297.5,1039.1 2298.6,1038.9 2299.7,1037.6 2300.8,1039.0 2301.9,1038.8 2303.0,1037.5 2304.2,1039.5 2305.3,1041.9 2306.4,1040.1 2307.5,1042.4 2308.6,1039.0 2309.7,1040.2 2310.8,1039.2 2311.9,1037.9 2313.0,1037.6 2314.1,1036.3 2315.2,1040.4 2316.3,1038.7 2317.5,1039.8 2318.6,1037.1 2319.7,1036.8 2320.8,1037.7 2321.9,1041.2 2323.0,1042.3 2324.1,1043.4 2325.2,1039.7 2326.3,1039.4 2327.4,1036.8 2328.5,1036.2 2329.6,1038.7 2330.8,1039.3 2331.9,1039.1 2333.0,1037.3 2334.1,1039.1 2335.2,1039.9 2336.3,1040.0 2337.4,1042.7 2338.0,1037.2 2338.5,1039.8 2339.6,1038.3 2340.7,1037.9 2341.8,1039.5 2342.9,1036.4 2344.1,1041.8 2345.2,1039.5 2346.3,1041.3 2347.4,1039.5 2348.5,1042.1 2349.6,1037.5 2350.7,1037.7 2351.8,1043.0 2352.9,1040.3 2354.0,1041.4 2355.1,1039.0 2356.2,1038.4 2357.4,1038.8 2358.5,1041.1 2359.6,1039.9 2360.7,1038.8 2361.8,1035.1 2362.9,1039.6 2364.0,1040.3 2365.1,1041.7 2366.2,1038.5 2367.3,1035.4 2368.4,1037.2 2369.6,1040.6 2370.7,1039.4 2371.8,1039.7 2372.9,1038.8 2374.0,1037.6 2375.1,1037.7 2376.2,1038.2 2377.3,1039.2 2378.4,1035.9 2379.5,1041.0 2380.6,1040.8 2381.7,1036.7 2382.9,1036.1 2384.0,1041.1 2385.1,1039.7 2386.2,1037.5 2387.3,1036.4 2388.4,1040.8 2389.5,1039.4 2390.6,1038.6 2391.7,1041.1 2392.8,1036.4 2393.9,1037.0 2395.0,1036.5 2396.2,1038.3 2397.3,1034.1 2398.4,1037.6 2399.5,1036.1 2400.6,1037.0 2401.7,1035.9 2402.8,1033.9 2403.9,1038.5 2405.0,1039.7 2406.1,1039.3 2407.2,1036.0 2408.3,1037.6 2409.5,1038.6 2410.6,1036.8 2411.7,1035.1 2412.8,1038.1 2413.9,1037.7 2415.3,1036.5"/>
</g>
<g fill="#000"><circle cx="1670.1" cy="842.6" r="7"/><circle cx="1713.4" cy="843.8" r="7"/><circle cx="1670.1" cy="864.8" r="7"/><circle cx="1713.4" cy="866.0" r="7"/><circle cx="1670.1" cy="886.9" r="7"/><circle cx="1713.4" cy="888.1" r="7"/><circle cx="1670.1" cy="909.1" r="7"/><circle cx="1713.4" cy="910.3" r="7"/><circle cx="1670.1" cy="931.3" r="7"/><circle cx="1713.4" cy="932.5" r="7"/><circle cx="1670.1" cy="953.5" r="7"/><circle cx="1713.4" cy="954.6" r="7"/><circle cx="1670.1" cy="975.6" r="7"/><circle cx="1713.4" cy="976.8" r="7"/><circle cx="1670.1" cy="997.8" r="7"/><circle cx="1713.4" cy="999.0" r="7"/><circle cx="1670.1" cy="1020.0" r="7"/><circle cx="1713.4" cy="1021.2" r="7"/><circle cx="1670.1" cy="1042.1" r="7"/><circle cx="1713.4" cy="1043.3" r="7"/><circle cx="1670.1" cy="1064.3" r="7"/><circle cx="1713.4" cy="1065.5" r="7"/><circle cx="1670.1" cy="1086.5" r="7"/><circle cx="1713.4" cy="1087.7" r="7"/><circle cx="1670.1" cy="1108.6" r="7"/><circle cx="1713.4" cy="1109.8" r="7"/><circle cx="1670.1" cy="1130.8" r="7"/><circle cx="1713.4" cy="1132.0" r="7"/><circle cx="1670.1" cy="1153.0" r="7"/><circle cx="1713.4" cy="1154.2" r="7"/><circle cx="1670.1" cy="1175.2" r="7"/><circle cx="1713.4" cy="1176.3" r="7"/><circle cx="1670.1" cy="1197.3" r="7"/><circle cx="1713.4" cy="1198.5" r="7"/><circle cx="1670.1" cy="1219.5" r="7"/><circle cx="1713.4" cy="1220.7" r="7"/><circle cx="1670.1" cy="1241.7" r="7"/><circle cx="1713.4" cy="1242.9" r="7"/><circle cx="1670.1" cy="1263.8" r="7"/><circle cx="1713.4" cy="1265.0" r="7"/><circle cx="1670.1" cy="1286.0" r="7"/><circle cx="1713.4" cy="1287.2" r="7"/><circle cx="1670.1" cy="1308.2" r="7"/><circle cx="1713.4" cy="1309.4" r="7"/><circle cx="1670.1" cy="1330.3" r="7"/><circle cx="1713.4" cy="1331.5" r="7"/><circle cx="1670.1" cy="1352.5" r="7"/><circle cx="1713.4" cy="1353.7" r="7"/><circle cx="1691.9" cy="842.8" r="7"/><circle cx="1691.0" cy="1353.9" r="7"/></g>
<line x1="1678.1" y1="699.6" x2="1696" y2="822" stroke="#000" stroke-width="3.6"/>
<polygon points="1701.1,858.3 1684,816 1705.8,812.5" fill="#000"/>
<line x1="2027.4" y1="127.3" x2="2223.4" y2="127.3" stroke="#000" stroke-width="13" stroke-linecap="round"/>
<text x="2243" y="157.7" font-size="75.5">S1</text>
<line x1="2027.4" y1="234.3" x2="2223.4" y2="234.3" stroke="#ff00ff" stroke-width="13" stroke-linecap="round"/>
<text x="2243" y="264.7" font-size="75.5">S2</text>
<line x1="2027.4" y1="341.4" x2="2223.4" y2="341.4" stroke="#ff0000" stroke-width="13" stroke-linecap="round"/>
<text x="2243" y="371.8" font-size="75.5">S4</text>
<line x1="2027.4" y1="448.4" x2="2223.4" y2="448.4" stroke="#0000ff" stroke-width="13" stroke-linecap="round"/>
<text x="2243" y="478.8" font-size="75.5">S5</text>
<text x="1494" y="144.2" font-size="88.3">MgO</text>
<text x="1095" y="412" font-weight="bold" font-size="73">FePt(111)</text>
<text x="425.5" y="863.8" font-weight="bold" font-size="73">FePt(001)</text>
<text x="1586.5" y="692.8" font-weight="bold" font-size="73">FePt(200)</text>
<text x="1758.5" y="903.6" font-weight="bold" font-size="73">FePt(002)</text>
<text class="sf" font-size="88" text-anchor="middle" transform="translate(399.5 849.5) scale(0.897 1.156)" x="0" y="42">*</text>
<text class="sf" font-size="88" text-anchor="middle" transform="translate(1353.5 498.4) scale(0.897 1.156)" x="0" y="42">*</text>
<text class="sf" font-size="88" text-anchor="middle" transform="translate(1800.5 949.4) scale(0.897 1.156)" x="0" y="42">*</text>
<text x="197.5" y="1774.2" font-weight="bold" font-size="105" text-anchor="middle">20</text>
<text x="751.8" y="1774.2" font-weight="bold" font-size="105" text-anchor="middle">30</text>
<text x="1306.0" y="1774.2" font-weight="bold" font-size="105" text-anchor="middle">40</text>
<text x="1860.2" y="1774.2" font-weight="bold" font-size="105" text-anchor="middle">50</text>
<text x="2414.5" y="1774.2" font-weight="bold" font-size="105" text-anchor="middle">60</text>
<text y="1905.7" font-size="125"><tspan x="1026" font-weight="bold" font-size="128.5">2</tspan><tspan class="sf" x="1096" y="1908.2" font-weight="bold" font-size="129">θ</tspan><tspan> </tspan><tspan class="sf" x="1196.5" y="1905.7">(</tspan><tspan class="sf" x="1234.5" y="1916" font-size="144">°</tspan><tspan class="sf" x="1289" y="1905.7">)</tspan></text>
<text transform="translate(108.3 829.3) rotate(-90)" text-anchor="middle" font-weight="bold" font-size="122.4"><tspan font-style="italic">I</tspan>(log(a.u.))</text>
</svg>
</body></html>
